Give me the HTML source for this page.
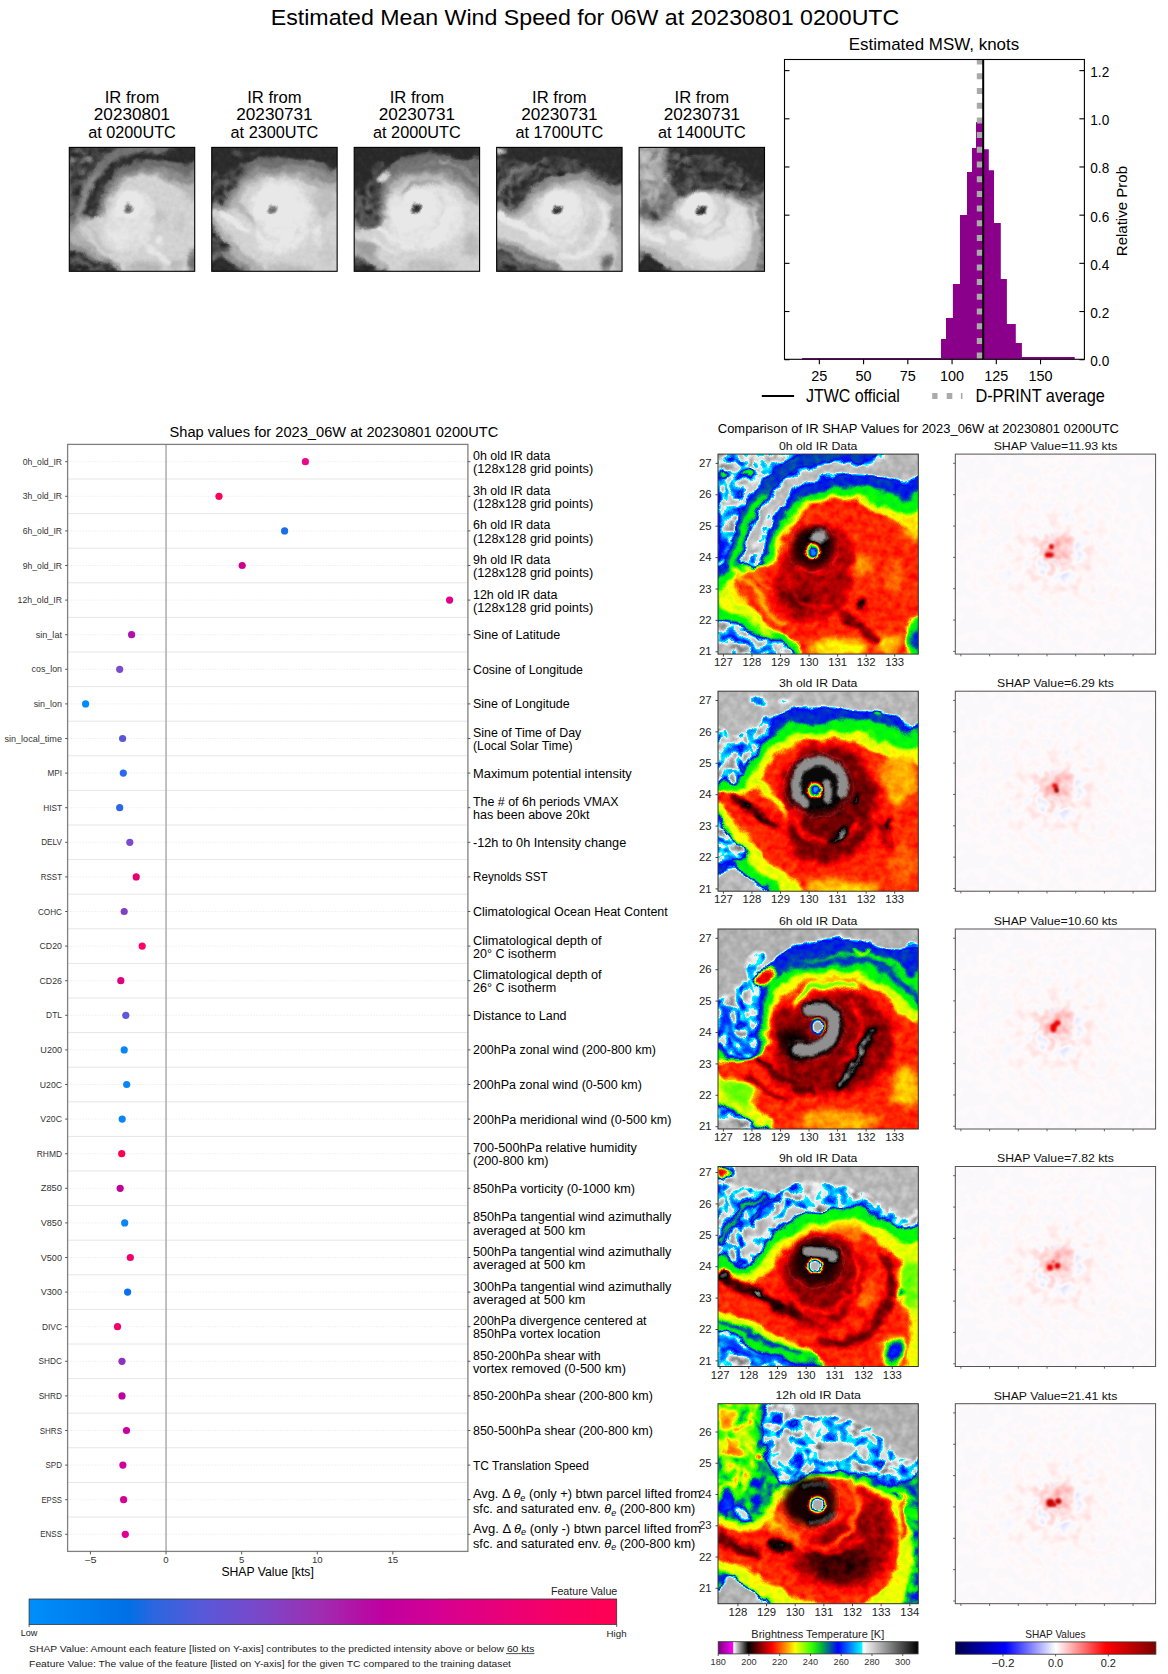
<!DOCTYPE html><html><head><meta charset="utf-8"><style>html,body{margin:0;padding:0;background:#fff;overflow:hidden}svg{display:block}text{font-family:"Liberation Sans",sans-serif}</style></head><body><svg width="1168" height="1674" viewBox="0 0 1168 1674"><defs><filter id="b1" x="-50%" y="-50%" width="200%" height="200%"><feGaussianBlur stdDeviation="0.8"/></filter><filter id="b2" x="-50%" y="-50%" width="200%" height="200%"><feGaussianBlur stdDeviation="1.6"/></filter><filter id="nzA" x="-20%" y="-20%" width="140%" height="140%" color-interpolation-filters="sRGB"><feTurbulence type="fractalNoise" baseFrequency="0.22" numOctaves="2" seed="11"/><feColorMatrix type="matrix" values="0.538 0 0 0 0.454 0.538 0 0 0 0.454 0.538 0 0 0 0.454 0 0 0 0 1"/><feComposite in2="SourceAlpha" operator="in"/></filter><filter id="nzB" x="-20%" y="-20%" width="140%" height="140%" color-interpolation-filters="sRGB"><feTurbulence type="fractalNoise" baseFrequency="0.22" numOctaves="2" seed="5"/><feColorMatrix type="matrix" values="0.308 0 0 0 0.385 0.308 0 0 0 0.385 0.308 0 0 0 0.385 0 0 0 0 1"/><feComposite in2="SourceAlpha" operator="in"/></filter><filter id="nzC" x="-20%" y="-20%" width="140%" height="140%" color-interpolation-filters="sRGB"><feTurbulence type="fractalNoise" baseFrequency="0.22" numOctaves="2" seed="9"/><feColorMatrix type="matrix" values="0.308 0 0 0 0.169 0.308 0 0 0 0.169 0.308 0 0 0 0.169 0 0 0 0 1"/><feComposite in2="SourceAlpha" operator="in"/></filter><filter id="nzD" x="-20%" y="-20%" width="140%" height="140%" color-interpolation-filters="sRGB"><feTurbulence type="fractalNoise" baseFrequency="0.22" numOctaves="2" seed="13"/><feColorMatrix type="matrix" values="0.538 0 0 0 0.162 0.538 0 0 0 0.162 0.538 0 0 0 0.162 0 0 0 0 1"/><feComposite in2="SourceAlpha" operator="in"/></filter><filter id="irmap" x="-10" y="-10" width="120" height="120" filterUnits="userSpaceOnUse" color-interpolation-filters="sRGB"><feGaussianBlur in="SourceGraphic" stdDeviation="0.9" result="s"/><feTurbulence type="fractalNoise" baseFrequency="0.09" numOctaves="3" seed="3" result="n"/><feDisplacementMap in="s" in2="n" scale="7" xChannelSelector="R" yChannelSelector="G" result="d"/><feTurbulence type="fractalNoise" baseFrequency="0.25" numOctaves="2" seed="7" result="n2"/><feColorMatrix in="n2" type="matrix" values="1 0 0 0 0  1 0 0 0 0  1 0 0 0 0  0 0 0 0 1" result="ng"/><feComposite in="d" in2="ng" operator="arithmetic" k1="0" k2="1" k3="0.06" k4="-0.03" result="dd"/><feComponentTransfer in="dd"><feFuncR type="table" tableValues="0.416 0.475 0.534 0.593 0.652 0.711 0.77 0.829 0.888 0.947 1 0.951 0.902 0.782 0.661 0.541 0.421 0.301 0.18 0.06 0 0.064 0.129 0.193 0.258 0.322 0.387 0.451 0.529 0.608 0.686 0.765 0.843 0.922 1 1 1 1 1 1 1 1 1 1 1 1 1 1 1 1 0.929 0.858 0.787 0.715 0.644 0.573 0.502 0.43 0.359 0.287 0.215 0.143 0.072 0 0 0 0 0 0 0 0 0 0 0 0 0 0 0 0 0 0 0 0 0 0 0 0 0 0 0 0 0 0 0 0 0.98 0.952 0.924 0.896 0.868 0.84 0.812 0.784 0.756 0.728 0.7 0.672 0.644 0.616 0.588 0.56 0.532 0.504 0.476 0.448 0.42 0.392 0.364 0.336 0.308 0.28 0.252 0.224 0.196 0.168 0.14 0.112 0.084 0.056 0.028 0"/><feFuncG type="table" tableValues="0 0 0 0 0 0 0 0 0 0 1 0.951 0.902 0.782 0.661 0.541 0.421 0.301 0.18 0.06 0 0 0 0 0 0 0 0 0 0 0 0 0 0 0 0.067 0.134 0.201 0.268 0.335 0.402 0.468 0.535 0.602 0.668 0.734 0.801 0.867 0.934 1 1 1 1 1 1 1 1 1 1 1 1 1 1 1 0.974 0.948 0.922 0.848 0.775 0.701 0.627 0.549 0.471 0.392 0.314 0.257 0.2 0.143 0.086 0.029 0.03 0.09 0.151 0.211 0.271 0.332 0.392 0.468 0.544 0.62 0.696 0.772 0.848 0.924 1 0.98 0.952 0.924 0.896 0.868 0.84 0.812 0.784 0.756 0.728 0.7 0.672 0.644 0.616 0.588 0.56 0.532 0.504 0.476 0.448 0.42 0.392 0.364 0.336 0.308 0.28 0.252 0.224 0.196 0.168 0.14 0.112 0.084 0.056 0.028 0"/><feFuncB type="table" tableValues="0.416 0.475 0.534 0.593 0.652 0.711 0.77 0.829 0.888 0.947 1 0.951 0.902 0.782 0.661 0.541 0.421 0.301 0.18 0.06 0 0 0 0 0 0 0 0 0 0 0 0 0 0 0 0 0 0 0 0 0 0 0 0 0 0 0 0 0 0 0 0 0 0 0 0 0 0 0 0 0 0 0 0 0.039 0.078 0.118 0.186 0.255 0.324 0.392 0.461 0.529 0.598 0.667 0.727 0.788 0.848 0.909 0.97 1 1 1 1 1 1 1 1 1 1 1 1 1 1 1 0.98 0.952 0.924 0.896 0.868 0.84 0.812 0.784 0.756 0.728 0.7 0.672 0.644 0.616 0.588 0.56 0.532 0.504 0.476 0.448 0.42 0.392 0.364 0.336 0.308 0.28 0.252 0.224 0.196 0.168 0.14 0.112 0.084 0.056 0.028 0"/><feFuncA type="identity"/></feComponentTransfer></filter><filter id="irmapS" x="-10" y="-10" width="120" height="120" filterUnits="userSpaceOnUse" color-interpolation-filters="sRGB"><feGaussianBlur in="SourceGraphic" stdDeviation="0.5" result="s"/><feTurbulence type="fractalNoise" baseFrequency="0.2" numOctaves="2" seed="4" result="n"/><feDisplacementMap in="s" in2="n" scale="2.2" xChannelSelector="R" yChannelSelector="G" result="d"/><feComponentTransfer in="d"><feFuncR type="table" tableValues="0.416 0.475 0.534 0.593 0.652 0.711 0.77 0.829 0.888 0.947 1 0.951 0.902 0.782 0.661 0.541 0.421 0.301 0.18 0.06 0 0.064 0.129 0.193 0.258 0.322 0.387 0.451 0.529 0.608 0.686 0.765 0.843 0.922 1 1 1 1 1 1 1 1 1 1 1 1 1 1 1 1 0.929 0.858 0.787 0.715 0.644 0.573 0.502 0.43 0.359 0.287 0.215 0.143 0.072 0 0 0 0 0 0 0 0 0 0 0 0 0 0 0 0 0 0 0 0 0 0 0 0 0 0 0 0 0 0 0 0 0.98 0.952 0.924 0.896 0.868 0.84 0.812 0.784 0.756 0.728 0.7 0.672 0.644 0.616 0.588 0.56 0.532 0.504 0.476 0.448 0.42 0.392 0.364 0.336 0.308 0.28 0.252 0.224 0.196 0.168 0.14 0.112 0.084 0.056 0.028 0"/><feFuncG type="table" tableValues="0 0 0 0 0 0 0 0 0 0 1 0.951 0.902 0.782 0.661 0.541 0.421 0.301 0.18 0.06 0 0 0 0 0 0 0 0 0 0 0 0 0 0 0 0.067 0.134 0.201 0.268 0.335 0.402 0.468 0.535 0.602 0.668 0.734 0.801 0.867 0.934 1 1 1 1 1 1 1 1 1 1 1 1 1 1 1 0.974 0.948 0.922 0.848 0.775 0.701 0.627 0.549 0.471 0.392 0.314 0.257 0.2 0.143 0.086 0.029 0.03 0.09 0.151 0.211 0.271 0.332 0.392 0.468 0.544 0.62 0.696 0.772 0.848 0.924 1 0.98 0.952 0.924 0.896 0.868 0.84 0.812 0.784 0.756 0.728 0.7 0.672 0.644 0.616 0.588 0.56 0.532 0.504 0.476 0.448 0.42 0.392 0.364 0.336 0.308 0.28 0.252 0.224 0.196 0.168 0.14 0.112 0.084 0.056 0.028 0"/><feFuncB type="table" tableValues="0.416 0.475 0.534 0.593 0.652 0.711 0.77 0.829 0.888 0.947 1 0.951 0.902 0.782 0.661 0.541 0.421 0.301 0.18 0.06 0 0 0 0 0 0 0 0 0 0 0 0 0 0 0 0 0 0 0 0 0 0 0 0 0 0 0 0 0 0 0 0 0 0 0 0 0 0 0 0 0 0 0 0 0.039 0.078 0.118 0.186 0.255 0.324 0.392 0.461 0.529 0.598 0.667 0.727 0.788 0.848 0.909 0.97 1 1 1 1 1 1 1 1 1 1 1 1 1 1 1 0.98 0.952 0.924 0.896 0.868 0.84 0.812 0.784 0.756 0.728 0.7 0.672 0.644 0.616 0.588 0.56 0.532 0.504 0.476 0.448 0.42 0.392 0.364 0.336 0.308 0.28 0.252 0.224 0.196 0.168 0.14 0.112 0.084 0.056 0.028 0"/><feFuncA type="identity"/></feComponentTransfer></filter><filter id="thmap" x="-10" y="-10" width="120" height="120" filterUnits="userSpaceOnUse" color-interpolation-filters="sRGB"><feGaussianBlur in="SourceGraphic" stdDeviation="1.4" result="s"/><feTurbulence type="fractalNoise" baseFrequency="0.09" numOctaves="3" seed="3" result="n"/><feDisplacementMap in="s" in2="n" scale="7" xChannelSelector="R" yChannelSelector="G" result="d"/><feTurbulence type="fractalNoise" baseFrequency="0.25" numOctaves="2" seed="7" result="n2"/><feColorMatrix in="n2" type="matrix" values="1 0 0 0 0  1 0 0 0 0  1 0 0 0 0  0 0 0 0 1" result="ng"/><feComposite in="d" in2="ng" operator="arithmetic" k1="0" k2="1" k3="0.06" k4="-0.03" result="dd"/><feComponentTransfer in="dd"><feFuncR type="table" tableValues="0.910 0.910 0.910 0.910 0.910 0.910 0.910 0.910 0.910 0.910 0.910 0.910 0.910 0.910 0.895 0.875 0.856 0.836 0.816 0.796 0.776 0.756 0.737 0.717 0.697 0.677 0.657 0.637 0.618 0.598 0.578 0.558 0.538 0.518 0.498 0.479 0.459 0.439 0.419 0.399 0.379 0.360 0.340 0.320 0.300 0.280 0.260 0.241 0.221 0.201 0.181 0.161 0.150 0.150 0.150 0.150 0.150 0.150 0.150 0.150 0.150 0.150 0.150 0.150"/><feFuncG type="table" tableValues="0.910 0.910 0.910 0.910 0.910 0.910 0.910 0.910 0.910 0.910 0.910 0.910 0.910 0.910 0.895 0.875 0.856 0.836 0.816 0.796 0.776 0.756 0.737 0.717 0.697 0.677 0.657 0.637 0.618 0.598 0.578 0.558 0.538 0.518 0.498 0.479 0.459 0.439 0.419 0.399 0.379 0.360 0.340 0.320 0.300 0.280 0.260 0.241 0.221 0.201 0.181 0.161 0.150 0.150 0.150 0.150 0.150 0.150 0.150 0.150 0.150 0.150 0.150 0.150"/><feFuncB type="table" tableValues="0.910 0.910 0.910 0.910 0.910 0.910 0.910 0.910 0.910 0.910 0.910 0.910 0.910 0.910 0.895 0.875 0.856 0.836 0.816 0.796 0.776 0.756 0.737 0.717 0.697 0.677 0.657 0.637 0.618 0.598 0.578 0.558 0.538 0.518 0.498 0.479 0.459 0.439 0.419 0.399 0.379 0.360 0.340 0.320 0.300 0.280 0.260 0.241 0.221 0.201 0.181 0.161 0.150 0.150 0.150 0.150 0.150 0.150 0.150 0.150 0.150 0.150 0.150 0.150"/><feFuncA type="identity"/></feComponentTransfer></filter><g id="fldo0"><rect x="-20" y="-20" width="140" height="140" fill="#cccccc"/><path d="M-4.0,-4.0C9.7,-14.7 64.7,-5.3 78.0,-4.0C91.3,-2.7 80.7,2.3 76.0,4.0C71.3,5.7 56.0,4.3 50.0,6.0C44.0,7.7 43.3,10.7 40.0,14.0C36.7,17.3 33.0,21.0 30.0,26.0C27.0,31.0 24.0,39.0 22.0,44.0C20.0,49.0 22.3,53.3 18.0,56.0C13.7,58.7 -0.3,70.0 -4.0,60.0C-7.7,50.0 -17.7,6.7 -4.0,-4.0Z" fill="#000" filter="url(#nzA)"/><path d="M14.0,52.0C14.8,49.7 17.0,42.2 19.0,38.0C21.0,33.8 23.3,30.3 26.0,27.0C28.7,23.7 31.7,20.7 35.0,18.0C38.3,15.3 42.5,12.7 46.0,11.0C49.5,9.3 54.3,8.5 56.0,8.0" fill="none" stroke="#cccccc" stroke-width="4.5" stroke-linecap="round" filter="url(#b1)"/><ellipse cx="20" cy="20" rx="7" ry="5" fill="#cccccc" transform="rotate(-40 20 20)" filter="url(#b1)"/><ellipse cx="60" cy="6" rx="8" ry="2.5" fill="#cccccc" filter="url(#b1)"/><path d="M2.0,82.0C2.5,78.7 3.8,67.7 5.0,62.0C6.2,56.3 7.7,52.3 9.0,48.0C10.3,43.7 11.3,40.0 13.0,36.0C14.7,32.0 16.3,28.0 19.0,24.0C21.7,20.0 25.2,15.5 29.0,12.0C32.8,8.5 37.2,5.0 42.0,3.0C46.8,1.0 52.3,0.8 58.0,0.0C63.7,-0.8 73.0,-1.7 76.0,-2.0" fill="none" stroke="#939393" stroke-width="8" stroke-linecap="round"/><path d="M4.0,70.0C4.5,67.7 5.8,60.3 7.0,56.0C8.2,51.7 9.5,48.2 11.0,44.0C12.5,39.8 14.2,34.7 16.0,31.0C17.8,27.3 21.0,23.5 22.0,22.0" fill="none" stroke="#7c7c7c" stroke-width="3.5" stroke-linecap="round" filter="url(#b1)"/><path d="M0.0,18.0C0.2,20.8 1.0,29.7 1.0,35.0C1.0,40.3 0.2,47.5 0.0,50.0" fill="none" stroke="#979797" stroke-width="3" stroke-linecap="round" filter="url(#b1)"/><ellipse cx="4" cy="10" rx="3" ry="1.6" fill="#767676" filter="url(#b1)"/><ellipse cx="14" cy="10" rx="4" ry="1.6" fill="#6e6e6e" filter="url(#b1)"/><path d="M20.0,56.0C22.7,53.7 22.3,46.3 24.0,42.0C25.7,37.7 27.8,33.5 30.0,30.0C32.2,26.5 34.7,23.7 37.0,21.0C39.3,18.3 41.5,15.7 44.0,14.0C46.5,12.3 49.0,11.7 52.0,11.0C55.0,10.3 58.7,10.2 62.0,10.0C65.3,9.8 69.0,9.8 72.0,10.0C75.0,10.2 76.7,10.2 80.0,11.0C83.3,11.8 88.0,13.8 92.0,15.0C96.0,16.2 102.0,3.2 104.0,18.0C106.0,32.8 118.7,89.7 104.0,104.0C89.3,118.3 32.0,105.7 16.0,104.0C0.0,102.3 11.3,96.7 8.0,94.0C4.7,91.3 -2.0,93.7 -4.0,88.0C-6.0,82.3 -6.0,65.3 -4.0,60.0C-2.0,54.7 4.0,56.7 8.0,56.0C12.0,55.3 17.3,58.3 20.0,56.0Z" fill="#979797"/><path d="M-4.0,82.0C-1.7,81.0 5.3,84.3 10.0,86.0C14.7,87.7 19.0,90.3 24.0,92.0C29.0,93.7 36.3,94.0 40.0,96.0C43.7,98.0 50.3,102.7 46.0,104.0C41.7,105.3 20.7,105.3 14.0,104.0C7.3,102.7 9.0,98.0 6.0,96.0C3.0,94.0 -2.3,94.3 -4.0,92.0C-5.7,89.7 -6.3,83.0 -4.0,82.0Z" fill="#000" filter="url(#nzA)"/><path d="M22.0,58.0C23.8,55.8 24.3,49.2 26.0,45.0C27.7,40.8 29.7,36.7 32.0,33.0C34.3,29.3 37.0,25.5 40.0,23.0C43.0,20.5 46.7,19.2 50.0,18.0C53.3,16.8 56.7,16.2 60.0,16.0C63.3,15.8 66.7,16.5 70.0,17.0C73.3,17.5 76.3,18.2 80.0,19.0C83.7,19.8 88.0,20.8 92.0,22.0C96.0,23.2 102.0,12.3 104.0,26.0C106.0,39.7 113.3,91.0 104.0,104.0C94.7,117.0 59.3,105.3 48.0,104.0C36.7,102.7 40.7,98.3 36.0,96.0C31.3,93.7 24.7,91.7 20.0,90.0C15.3,88.3 12.0,87.3 8.0,86.0C4.0,84.7 -2.0,85.3 -4.0,82.0C-6.0,78.7 -5.7,69.7 -4.0,66.0C-2.3,62.3 2.8,61.3 6.0,60.0C9.2,58.7 12.3,58.3 15.0,58.0C17.7,57.7 20.2,60.2 22.0,58.0Z" fill="#7e7e7e"/><path d="M27.0,53.0C28.7,50.5 28.5,45.7 30.0,42.0C31.5,38.3 33.7,34.0 36.0,31.0C38.3,28.0 41.3,25.7 44.0,24.0C46.7,22.3 49.0,21.7 52.0,21.0C55.0,20.3 58.7,19.8 62.0,20.0C65.3,20.2 68.3,21.0 72.0,22.0C75.7,23.0 80.2,24.7 84.0,26.0C87.8,27.3 91.7,29.0 95.0,30.0C98.3,31.0 102.5,19.7 104.0,32.0C105.5,44.3 112.7,92.0 104.0,104.0C95.3,116.0 62.7,105.7 52.0,104.0C41.3,102.3 44.3,96.7 40.0,94.0C35.7,91.3 30.7,90.0 26.0,88.0C21.3,86.0 16.0,84.0 12.0,82.0C8.0,80.0 3.3,78.7 2.0,76.0C0.7,73.3 2.3,68.7 4.0,66.0C5.7,63.3 9.3,61.5 12.0,60.0C14.7,58.5 17.5,58.2 20.0,57.0C22.5,55.8 25.3,55.5 27.0,53.0Z" fill="#606060"/><path d="M30.0,52.0C31.3,49.7 31.5,45.3 33.0,42.0C34.5,38.7 36.8,34.7 39.0,32.0C41.2,29.3 43.5,27.5 46.0,26.0C48.5,24.5 51.0,23.5 54.0,23.0C57.0,22.5 60.7,22.5 64.0,23.0C67.3,23.5 70.3,24.5 74.0,26.0C77.7,27.5 82.5,30.0 86.0,32.0C89.5,34.0 92.0,36.0 95.0,38.0C98.0,40.0 102.5,33.0 104.0,44.0C105.5,55.0 113.0,94.0 104.0,104.0C95.0,114.0 61.0,105.7 50.0,104.0C39.0,102.3 42.0,97.0 38.0,94.0C34.0,91.0 29.7,89.0 26.0,86.0C22.3,83.0 18.8,79.7 16.0,76.0C13.2,72.3 8.7,67.2 9.0,64.0C9.3,60.8 15.3,58.3 18.0,57.0C20.7,55.7 23.0,56.8 25.0,56.0C27.0,55.2 28.7,54.3 30.0,52.0Z" fill="#474747"/><ellipse cx="60" cy="97" rx="14" ry="4" fill="#606060" transform="rotate(-5 60 97)" filter="url(#b2)"/><ellipse cx="85" cy="95" rx="7" ry="5" fill="#5a5a5a" filter="url(#b2)"/><ellipse cx="100" cy="92" rx="5" ry="12" fill="#818181" filter="url(#b1)"/><ellipse cx="101" cy="93" rx="2.5" ry="6" fill="#999999" filter="url(#b1)"/><path d="M8.0,58.0C9.3,59.3 13.3,63.0 16.0,66.0C18.7,69.0 21.3,73.0 24.0,76.0C26.7,79.0 30.7,82.7 32.0,84.0" fill="none" stroke="#585858" stroke-width="3" stroke-linecap="round" filter="url(#b1)"/><path d="M3.0,68.0C4.2,69.3 7.5,73.3 10.0,76.0C12.5,78.7 15.3,81.7 18.0,84.0C20.7,86.3 24.7,89.0 26.0,90.0" fill="none" stroke="#646464" stroke-width="3" stroke-linecap="round" filter="url(#b1)"/><path d="M12.0,56.0C13.3,57.0 17.7,60.0 20.0,62.0C22.3,64.0 25.0,67.0 26.0,68.0" fill="none" stroke="#525252" stroke-width="2.5" stroke-linecap="round" filter="url(#b1)"/><ellipse cx="72" cy="55" rx="5" ry="5" fill="#545454" filter="url(#b2)"/><ellipse cx="98" cy="36" rx="5" ry="7" fill="#5e5e5e" filter="url(#b2)"/><ellipse cx="88" cy="62" rx="6" ry="8" fill="#4e4e4e" filter="url(#b2)"/><path d="M33.0,52.0C34.2,49.7 35.5,46.2 37.0,44.0C38.5,41.8 39.8,40.3 42.0,39.0C44.2,37.7 47.3,36.3 50.0,36.0C52.7,35.7 55.5,35.8 58.0,37.0C60.5,38.2 63.5,40.8 65.0,43.0C66.5,45.2 66.7,47.2 67.0,50.0C67.3,52.8 67.3,56.7 67.0,60.0C66.7,63.3 66.0,67.2 65.0,70.0C64.0,72.8 62.7,75.2 61.0,77.0C59.3,78.8 57.3,79.8 55.0,81.0C52.7,82.2 49.8,83.8 47.0,84.0C44.2,84.2 40.5,83.3 38.0,82.0C35.5,80.7 33.5,78.5 32.0,76.0C30.5,73.5 29.3,70.0 29.0,67.0C28.7,64.0 29.3,60.5 30.0,58.0C30.7,55.5 31.8,54.3 33.0,52.0Z" fill="#3b3b3b" filter="url(#b2)"/><ellipse cx="40" cy="72" rx="8" ry="5" fill="#313131" transform="rotate(10 40 72)" filter="url(#b2)"/><path d="M34.0,60.0C34.7,61.7 36.0,67.3 38.0,70.0C40.0,72.7 43.0,75.0 46.0,76.0C49.0,77.0 54.3,76.0 56.0,76.0" fill="none" stroke="#454545" stroke-width="1.5" stroke-linecap="round" filter="url(#b1)"/><path d="M40.0,58.0C41.3,58.3 45.3,60.2 48.0,60.0C50.7,59.8 54.0,58.7 56.0,57.0C58.0,55.3 59.3,51.2 60.0,50.0" fill="none" stroke="#434343" stroke-width="2" stroke-linecap="round" filter="url(#b1)"/><path d="M63.0,80.0C64.2,81.0 67.5,83.8 70.0,86.0C72.5,88.2 76.7,91.8 78.0,93.0" fill="none" stroke="#353535" stroke-width="4" stroke-linecap="round" filter="url(#b1)"/><ellipse cx="71.5" cy="75.5" rx="1.6" ry="3.6" fill="#252525" transform="rotate(20 71.5 75.5)" filter="url(#b1)"/></g><g id="fldc0"><ellipse cx="47.4" cy="46.6" rx="10.5" ry="10" fill="#2b2b2b" filter="url(#b2)"/><ellipse cx="50.4" cy="41.6" rx="4.4" ry="3.6" fill="#1d1d1d" filter="url(#b1)"/><ellipse cx="47.2" cy="48.2" rx="3.8" ry="4.0" fill="#494949"/><ellipse cx="47.3" cy="48.5" rx="3.0" ry="3.2" fill="#818181"/><ellipse cx="47.7" cy="49.0" rx="2.0" ry="2.0" fill="#adadad"/></g><g id="fldo1"><rect x="-20" y="-20" width="140" height="140" fill="#cccccc"/><path d="M-4.0,22.0C-1.7,11.7 6.3,24.3 10.0,24.0C13.7,23.7 15.3,21.7 18.0,20.0C20.7,18.3 23.0,15.7 26.0,14.0C29.0,12.3 32.0,11.0 36.0,10.0C40.0,9.0 45.2,8.2 50.0,8.0C54.8,7.8 60.3,8.7 65.0,9.0C69.7,9.3 74.2,9.3 78.0,10.0C81.8,10.7 85.0,11.7 88.0,13.0C91.0,14.3 93.3,16.5 96.0,18.0C98.7,19.5 102.7,7.7 104.0,22.0C105.3,36.3 116.0,90.3 104.0,104.0C92.0,117.7 45.3,105.0 32.0,104.0C18.7,103.0 27.7,100.3 24.0,98.0C20.3,95.7 14.7,92.0 10.0,90.0C5.3,88.0 -1.7,97.3 -4.0,86.0C-6.3,74.7 -6.3,32.3 -4.0,22.0Z" fill="#979797"/><path d="M-4.0,20.0C-1.7,15.3 6.3,22.3 10.0,22.0C13.7,21.7 15.3,19.7 18.0,18.0C20.7,16.3 25.0,11.0 26.0,12.0C27.0,13.0 25.7,20.3 24.0,24.0C22.3,27.7 18.3,30.3 16.0,34.0C13.7,37.7 13.3,43.3 10.0,46.0C6.7,48.7 -1.7,54.3 -4.0,50.0C-6.3,45.7 -6.3,24.7 -4.0,20.0Z" fill="#000" filter="url(#nzA)"/><ellipse cx="20" cy="4" rx="5" ry="1.5" fill="#a1a1a1" filter="url(#b1)"/><ellipse cx="33" cy="5" rx="3" ry="1.2" fill="#adadad" filter="url(#b1)"/><ellipse cx="80" cy="10" rx="2" ry="1.5" fill="#6c6c6c" filter="url(#b1)"/><path d="M-4.0,47.0C-2.0,44.0 4.7,47.8 8.0,46.0C11.3,44.2 13.3,39.3 16.0,36.0C18.7,32.7 21.0,29.0 24.0,26.0C27.0,23.0 30.0,19.8 34.0,18.0C38.0,16.2 43.3,15.7 48.0,15.0C52.7,14.3 57.3,13.8 62.0,14.0C66.7,14.2 71.3,15.0 76.0,16.0C80.7,17.0 85.3,18.0 90.0,20.0C94.7,22.0 101.7,14.0 104.0,28.0C106.3,42.0 115.7,91.3 104.0,104.0C92.3,116.7 48.0,105.3 34.0,104.0C20.0,102.7 24.3,99.0 20.0,96.0C15.7,93.0 9.0,89.0 8.0,86.0C7.0,83.0 14.3,80.7 14.0,78.0C13.7,75.3 9.0,72.3 6.0,70.0C3.0,67.7 -2.3,67.8 -4.0,64.0C-5.7,60.2 -6.0,50.0 -4.0,47.0Z" fill="#7e7e7e"/><path d="M-4.0,64.0C-2.3,61.0 3.0,64.3 6.0,66.0C9.0,67.7 12.3,71.3 14.0,74.0C15.7,76.7 17.0,80.0 16.0,82.0C15.0,84.0 11.3,85.7 8.0,86.0C4.7,86.3 -2.0,87.7 -4.0,84.0C-6.0,80.3 -5.7,67.0 -4.0,64.0Z" fill="#000" filter="url(#nzA)"/><path d="M-4.0,52.0C-2.7,50.0 5.0,51.0 8.0,50.0C11.0,49.0 12.0,48.3 14.0,46.0C16.0,43.7 17.7,39.0 20.0,36.0C22.3,33.0 25.0,30.3 28.0,28.0C31.0,25.7 34.3,23.3 38.0,22.0C41.7,20.7 45.7,20.3 50.0,20.0C54.3,19.7 59.3,19.5 64.0,20.0C68.7,20.5 73.3,21.7 78.0,23.0C82.7,24.3 87.7,26.2 92.0,28.0C96.3,29.8 102.0,21.3 104.0,34.0C106.0,46.7 114.7,92.3 104.0,104.0C93.3,115.7 52.7,105.3 40.0,104.0C27.3,102.7 32.0,99.0 28.0,96.0C24.0,93.0 19.3,90.0 16.0,86.0C12.7,82.0 10.7,76.0 8.0,72.0C5.3,68.0 2.0,65.3 0.0,62.0C-2.0,58.7 -5.3,54.0 -4.0,52.0Z" fill="#626262"/><path d="M-4.0,49.0C-3.0,47.7 6.0,52.5 10.0,52.0C14.0,51.5 17.3,48.7 20.0,46.0C22.7,43.3 23.7,38.8 26.0,36.0C28.3,33.2 31.0,30.8 34.0,29.0C37.0,27.2 40.3,25.8 44.0,25.0C47.7,24.2 51.7,23.7 56.0,24.0C60.3,24.3 65.3,25.5 70.0,27.0C74.7,28.5 78.3,30.2 84.0,33.0C89.7,35.8 100.7,32.2 104.0,44.0C107.3,55.8 112.7,94.0 104.0,104.0C95.3,114.0 63.0,105.7 52.0,104.0C41.0,102.3 42.7,97.3 38.0,94.0C33.3,90.7 28.0,87.7 24.0,84.0C20.0,80.3 17.3,76.0 14.0,72.0C10.7,68.0 7.0,63.8 4.0,60.0C1.0,56.2 -5.0,50.3 -4.0,49.0Z" fill="#474747"/><path d="M18.0,44.0C19.3,45.3 23.3,49.0 26.0,52.0C28.7,55.0 31.7,59.3 34.0,62.0C36.3,64.7 39.0,67.0 40.0,68.0" fill="none" stroke="#686868" stroke-width="3" stroke-linecap="round" filter="url(#b1)"/><ellipse cx="90" cy="45" rx="9" ry="13" fill="#565656" filter="url(#b2)"/><ellipse cx="62" cy="99" rx="18" ry="4" fill="#5c5c5c" filter="url(#b2)"/><ellipse cx="93" cy="88" rx="7" ry="12" fill="#4e4e4e" filter="url(#b2)"/><path d="M8.0,53.0C9.2,53.8 12.7,56.3 15.0,58.0C17.3,59.7 19.7,61.3 22.0,63.0C24.3,64.7 27.8,67.2 29.0,68.0" fill="none" stroke="#313131" stroke-width="4.5" stroke-linecap="round" filter="url(#b1)"/><ellipse cx="13" cy="57" rx="2.2" ry="1.4" fill="#1f1f1f" transform="rotate(35 13 57)" filter="url(#b1)"/><ellipse cx="20" cy="62.5" rx="1.5" ry="1.2" fill="#1f1f1f" transform="rotate(35 20 62.5)" filter="url(#b1)"/><path d="M34.0,40.0C35.3,36.8 37.3,33.2 40.0,31.0C42.7,28.8 46.3,27.3 50.0,27.0C53.7,26.7 58.3,27.7 62.0,29.0C65.7,30.3 69.3,31.8 72.0,35.0C74.7,38.2 77.0,43.5 78.0,48.0C79.0,52.5 78.7,57.7 78.0,62.0C77.3,66.3 76.0,70.7 74.0,74.0C72.0,77.3 69.3,80.0 66.0,82.0C62.7,84.0 58.0,85.7 54.0,86.0C50.0,86.3 45.0,85.7 42.0,84.0C39.0,82.3 37.3,79.7 36.0,76.0C34.7,72.3 34.7,66.3 34.0,62.0C33.3,57.7 32.0,53.7 32.0,50.0C32.0,46.3 32.7,43.2 34.0,40.0Z" fill="#353535" filter="url(#b2)"/><path d="M36.0,60.0C37.0,61.7 39.3,67.5 42.0,70.0C44.7,72.5 48.7,74.3 52.0,75.0C55.3,75.7 59.0,75.5 62.0,74.0C65.0,72.5 68.7,67.3 70.0,66.0" fill="none" stroke="#454545" stroke-width="3" stroke-linecap="round" filter="url(#b1)"/><ellipse cx="61" cy="72" rx="6" ry="2.2" fill="#1f1f1f" transform="rotate(-35 61 72)" filter="url(#b1)"/><ellipse cx="55" cy="75" rx="1.5" ry="1.2" fill="#1f1f1f" filter="url(#b1)"/><ellipse cx="69" cy="53" rx="1.6" ry="2.6" fill="#1f1f1f" filter="url(#b1)"/><ellipse cx="84.5" cy="66" rx="1.4" ry="3.5" fill="#212121" transform="rotate(10 84.5 66)" filter="url(#b1)"/><path d="M70.0,62.0C71.7,63.0 77.3,65.3 80.0,68.0C82.7,70.7 85.0,76.3 86.0,78.0" fill="none" stroke="#393939" stroke-width="3" stroke-linecap="round" filter="url(#b1)"/></g><g id="fldc1"><ellipse cx="50" cy="47" rx="15" ry="14" fill="#272727" filter="url(#b2)"/><path d="M62.0,51.0C62.1,50.0 63.0,47.1 62.5,45.0C62.0,42.9 60.9,40.2 59.0,38.5C57.1,36.8 53.7,35.2 51.0,35.0C48.3,34.8 45.0,35.8 43.0,37.5C41.0,39.2 39.5,42.6 39.0,45.0C38.5,47.4 39.3,50.2 40.0,52.0C40.7,53.8 42.5,55.3 43.0,56.0" fill="none" stroke="#1d1d1d" stroke-width="5.0" stroke-linecap="round"/><ellipse cx="54.5" cy="50" rx="2.4" ry="6" fill="#1d1d1d"/><ellipse cx="48.4" cy="49.4" rx="4.0" ry="4.0" fill="#4b4b4b"/><ellipse cx="48.4" cy="49.4" rx="3.0" ry="3.0" fill="#898989"/><ellipse cx="48.8" cy="49.0" rx="1.6" ry="1.6" fill="#b1b1b1"/></g><g id="fldo2"><rect x="-20" y="-20" width="140" height="140" fill="#cecece"/><path d="M-4.0,36.0C-2.3,31.3 3.0,36.0 6.0,34.0C9.0,32.0 12.3,27.3 14.0,24.0C15.7,20.7 14.3,16.0 16.0,14.0C17.7,12.0 23.0,9.3 24.0,12.0C25.0,14.7 22.7,23.7 22.0,30.0C21.3,36.3 20.0,44.3 20.0,50.0C20.0,55.7 23.7,61.3 22.0,64.0C20.3,66.7 14.3,66.3 10.0,66.0C5.7,65.7 -1.7,67.0 -4.0,62.0C-6.3,57.0 -5.7,40.7 -4.0,36.0Z" fill="#000" filter="url(#nzA)"/><path d="M2.0,40.0C2.7,41.7 4.3,47.0 6.0,50.0C7.7,53.0 10.0,55.7 12.0,58.0C14.0,60.3 17.0,63.0 18.0,64.0" fill="none" stroke="#a1a1a1" stroke-width="3.0" stroke-linecap="round" filter="url(#b1)"/><path d="M8.0,30.0C8.7,31.7 10.5,36.7 12.0,40.0C13.5,43.3 16.2,48.3 17.0,50.0" fill="none" stroke="#a9a9a9" stroke-width="2.0" stroke-linecap="round" filter="url(#b1)"/><path d="M-4.0,58.0C-2.0,53.3 4.3,63.3 8.0,64.0C11.7,64.7 16.0,66.0 18.0,62.0C20.0,58.0 19.3,46.0 20.0,40.0C20.7,34.0 20.7,30.0 22.0,26.0C23.3,22.0 25.0,18.8 28.0,16.0C31.0,13.2 35.7,10.8 40.0,9.0C44.3,7.2 49.7,5.8 54.0,5.0C58.3,4.2 62.3,3.8 66.0,4.0C69.7,4.2 72.3,5.0 76.0,6.0C79.7,7.0 83.3,8.3 88.0,10.0C92.7,11.7 101.3,0.3 104.0,16.0C106.7,31.7 118.3,89.3 104.0,104.0C89.7,118.7 34.0,105.3 18.0,104.0C2.0,102.7 11.7,98.0 8.0,96.0C4.3,94.0 -2.0,98.3 -4.0,92.0C-6.0,85.7 -6.0,62.7 -4.0,58.0Z" fill="#979797"/><path d="M-4.0,62.0C-1.7,58.0 6.0,67.7 10.0,68.0C14.0,68.3 18.0,68.0 20.0,64.0C22.0,60.0 21.0,49.7 22.0,44.0C23.0,38.3 24.0,34.0 26.0,30.0C28.0,26.0 30.7,22.7 34.0,20.0C37.3,17.3 41.7,15.3 46.0,14.0C50.3,12.7 55.3,12.2 60.0,12.0C64.7,11.8 69.3,12.2 74.0,13.0C78.7,13.8 84.3,15.5 88.0,17.0C91.7,18.5 93.3,20.2 96.0,22.0C98.7,23.8 102.7,14.3 104.0,28.0C105.3,41.7 117.7,91.3 104.0,104.0C90.3,116.7 37.3,105.3 22.0,104.0C6.7,102.7 16.3,98.0 12.0,96.0C7.7,94.0 -1.3,97.7 -4.0,92.0C-6.7,86.3 -6.3,66.0 -4.0,62.0Z" fill="#7e7e7e"/><path d="M34.0,20.0C36.7,19.3 44.7,16.7 50.0,16.0C55.3,15.3 61.0,15.5 66.0,16.0C71.0,16.5 75.7,17.3 80.0,19.0C84.3,20.7 88.7,23.2 92.0,26.0C95.3,28.8 98.0,33.0 100.0,36.0C102.0,39.0 103.3,42.7 104.0,44.0" fill="none" stroke="#959595" stroke-width="3.5" stroke-linecap="round" filter="url(#b1)"/><path d="M60.0,30.0C62.3,30.2 69.7,30.0 74.0,31.0C78.3,32.0 82.3,34.2 86.0,36.0C89.7,37.8 94.3,41.0 96.0,42.0" fill="none" stroke="#979797" stroke-width="3" stroke-linecap="round" filter="url(#b1)"/><path d="M69.0,10.0C69.5,10.5 71.0,13.0 72.0,13.0C73.0,13.0 74.5,10.5 75.0,10.0" fill="none" stroke="#525252" stroke-width="1.2" stroke-linecap="round"/><path d="M-4.0,68.0C-1.7,65.7 5.7,72.3 10.0,72.0C14.3,71.7 19.7,70.0 22.0,66.0C24.3,62.0 23.0,53.3 24.0,48.0C25.0,42.7 26.0,37.8 28.0,34.0C30.0,30.2 32.7,27.2 36.0,25.0C39.3,22.8 43.7,21.7 48.0,21.0C52.3,20.3 57.3,20.5 62.0,21.0C66.7,21.5 71.7,22.5 76.0,24.0C80.3,25.5 84.7,27.3 88.0,30.0C91.3,32.7 93.3,37.0 96.0,40.0C98.7,43.0 102.7,37.3 104.0,48.0C105.3,58.7 117.0,94.7 104.0,104.0C91.0,113.3 41.0,105.7 26.0,104.0C11.0,102.3 19.0,97.0 14.0,94.0C9.0,91.0 -1.0,90.3 -4.0,86.0C-7.0,81.7 -6.3,70.3 -4.0,68.0Z" fill="#626262"/><path d="M0.0,66.0C1.3,64.7 8.0,67.0 12.0,66.0C16.0,65.0 21.7,63.3 24.0,60.0C26.3,56.7 24.7,50.3 26.0,46.0C27.3,41.7 29.3,37.2 32.0,34.0C34.7,30.8 38.0,28.5 42.0,27.0C46.0,25.5 51.3,25.0 56.0,25.0C60.7,25.0 65.3,25.5 70.0,27.0C74.7,28.5 80.0,30.8 84.0,34.0C88.0,37.2 90.7,43.0 94.0,46.0C97.3,49.0 102.3,42.3 104.0,52.0C105.7,61.7 115.7,95.3 104.0,104.0C92.3,112.7 47.3,105.7 34.0,104.0C20.7,102.3 27.3,97.3 24.0,94.0C20.7,90.7 17.3,87.3 14.0,84.0C10.7,80.7 6.3,77.0 4.0,74.0C1.7,71.0 -1.3,67.3 0.0,66.0Z" fill="#474747"/><path d="M-4.0,88.0C-2.0,86.0 4.0,90.3 8.0,92.0C12.0,93.7 17.0,96.0 20.0,98.0C23.0,100.0 30.0,103.0 26.0,104.0C22.0,105.0 1.0,106.7 -4.0,104.0C-9.0,101.3 -6.0,90.0 -4.0,88.0Z" fill="#000" filter="url(#nzA)"/><ellipse cx="2" cy="100" rx="8" ry="5" fill="#cccccc" filter="url(#b1)"/><ellipse cx="23.5" cy="24.5" rx="4" ry="4" fill="#3f3f3f" filter="url(#b1)"/><path d="M40.0,48.0C39.7,46.7 37.7,42.7 38.0,40.0C38.3,37.3 40.0,34.0 42.0,32.0C44.0,30.0 47.0,28.7 50.0,28.0C53.0,27.3 56.7,27.7 60.0,28.0C63.3,28.3 68.3,29.7 70.0,30.0" fill="none" stroke="#727272" stroke-width="3.5" stroke-linecap="round" filter="url(#b1)"/><ellipse cx="94" cy="80" rx="7" ry="10" fill="#5a5a5a" filter="url(#b2)"/><ellipse cx="60" cy="96" rx="20" ry="5" fill="#565656" filter="url(#b2)"/><ellipse cx="10" cy="82" rx="8" ry="6" fill="#727272" transform="rotate(30 10 82)" filter="url(#b2)"/><path d="M28.0,50.0C28.0,44.7 29.3,42.3 32.0,40.0C34.7,37.7 40.0,37.3 44.0,36.0C48.0,34.7 52.0,32.7 56.0,32.0C60.0,31.3 64.0,31.0 68.0,32.0C72.0,33.0 77.0,35.0 80.0,38.0C83.0,41.0 85.0,45.7 86.0,50.0C87.0,54.3 87.0,60.0 86.0,64.0C85.0,68.0 82.7,71.3 80.0,74.0C77.3,76.7 74.0,78.7 70.0,80.0C66.0,81.3 60.7,82.0 56.0,82.0C51.3,82.0 46.0,81.7 42.0,80.0C38.0,78.3 34.3,77.0 32.0,72.0C29.7,67.0 28.0,55.3 28.0,50.0Z" fill="#373737" filter="url(#b2)"/><path d="M20.0,66.0C21.3,67.0 25.0,70.0 28.0,72.0C31.0,74.0 34.7,76.3 38.0,78.0C41.3,79.7 46.3,81.3 48.0,82.0" fill="none" stroke="#333333" stroke-width="4" stroke-linecap="round" filter="url(#b1)"/><path d="M14.0,74.0C15.7,75.0 20.7,78.3 24.0,80.0C27.3,81.7 32.3,83.3 34.0,84.0" fill="none" stroke="#353535" stroke-width="2.5" stroke-linecap="round" filter="url(#b1)"/><path d="M62.0,66.0C63.3,64.3 68.3,59.7 70.0,56.0C71.7,52.3 72.7,47.3 72.0,44.0C71.3,40.7 67.0,37.3 66.0,36.0" fill="none" stroke="#434343" stroke-width="2.5" stroke-linecap="round" filter="url(#b1)"/><path d="M76.0,52.0C75.3,53.7 73.7,58.7 72.0,62.0C70.3,65.3 68.0,69.2 66.0,72.0C64.0,74.8 61.0,77.8 60.0,79.0" fill="none" stroke="#272727" stroke-width="5" stroke-linecap="round" filter="url(#b1)"/><path d="M75.0,54.0C74.3,55.5 72.7,60.0 71.0,63.0C69.3,66.0 66.7,69.7 65.0,72.0C63.3,74.3 61.7,76.2 61.0,77.0" fill="none" stroke="#1f1f1f" stroke-width="2.5" stroke-linecap="round" filter="url(#b1)"/><ellipse cx="38" cy="56" rx="9" ry="8" fill="#292929" filter="url(#b2)"/></g><g id="fldc2"><path d="M46.0,40.0C47.3,40.0 51.9,39.0 54.0,40.0C56.1,41.0 58.0,43.7 58.5,46.0C59.0,48.3 58.1,51.8 57.0,54.0C55.9,56.2 54.2,57.8 52.0,59.0C49.8,60.2 46.2,60.7 44.0,61.0C41.8,61.3 39.8,61.0 39.0,61.0" fill="none" stroke="#272727" stroke-width="8.5" stroke-linecap="round" filter="url(#b1)"/><path d="M46.0,40.5C47.3,40.6 52.0,40.1 54.0,41.0C56.0,41.9 57.6,43.9 58.0,46.0C58.4,48.1 57.6,51.4 56.5,53.5C55.4,55.6 53.6,57.3 51.5,58.5C49.4,59.7 45.9,60.2 44.0,60.5C42.1,60.8 40.7,60.5 40.0,60.5" fill="none" stroke="#1d1d1d" stroke-width="6" stroke-linecap="round"/><ellipse cx="49.8" cy="48.6" rx="3.6" ry="4.0" fill="#8d8d8d"/><ellipse cx="49.8" cy="48.6" rx="2.6" ry="3.0" fill="#d2d2d2"/></g><g id="fldo3"><rect x="-20" y="-20" width="140" height="140" fill="#cccccc"/><path d="M-4.0,-4.0C-2.3,-22.0 3.7,-6.3 6.0,-4.0C8.3,-1.7 7.7,7.3 10.0,10.0C12.3,12.7 16.0,11.7 20.0,12.0C24.0,12.3 29.7,12.7 34.0,12.0C38.3,11.3 41.7,8.3 46.0,8.0C50.3,7.7 56.0,9.3 60.0,10.0C64.0,10.7 66.7,10.3 70.0,12.0C73.3,13.7 76.3,18.0 80.0,20.0C83.7,22.0 88.0,22.7 92.0,24.0C96.0,25.3 102.0,14.7 104.0,28.0C106.0,41.3 122.0,91.3 104.0,104.0C86.0,116.7 14.0,122.0 -4.0,104.0C-22.0,86.0 -5.7,14.0 -4.0,-4.0Z" fill="#000" filter="url(#nzA)"/><ellipse cx="22" cy="30" rx="6" ry="4" fill="#cccccc" transform="rotate(-30 22 30)" filter="url(#b1)"/><ellipse cx="30" cy="40" rx="5" ry="3" fill="#c4c4c4" transform="rotate(-30 30 40)" filter="url(#b1)"/><ellipse cx="16" cy="40" rx="4" ry="3" fill="#c8c8c8" transform="rotate(-20 16 40)" filter="url(#b1)"/><ellipse cx="10" cy="24" rx="4" ry="4" fill="#c0c0c0" filter="url(#b1)"/><ellipse cx="38" cy="24" rx="6" ry="3" fill="#cacaca" transform="rotate(-25 38 24)" filter="url(#b1)"/><path d="M2.0,40.0C2.7,38.3 4.0,33.3 6.0,30.0C8.0,26.7 11.0,22.3 14.0,20.0C17.0,17.7 22.3,16.7 24.0,16.0" fill="none" stroke="#7c7c7c" stroke-width="2.5" stroke-linecap="round" filter="url(#b1)"/><path d="M18.0,28.0C18.7,26.7 20.0,21.7 22.0,20.0C24.0,18.3 28.7,18.3 30.0,18.0" fill="none" stroke="#808080" stroke-width="2" stroke-linecap="round" filter="url(#b1)"/><ellipse cx="2" cy="3" rx="3" ry="4" fill="#434343" filter="url(#b1)"/><ellipse cx="2" cy="80" rx="6" ry="7" fill="#c8c8c8" filter="url(#b1)"/><path d="M-4.0,46.0C-2.3,40.7 3.0,47.3 6.0,48.0C9.0,48.7 11.3,51.0 14.0,50.0C16.7,49.0 19.7,44.7 22.0,42.0C24.3,39.3 25.3,36.7 28.0,34.0C30.7,31.3 34.0,28.0 38.0,26.0C42.0,24.0 47.3,23.0 52.0,22.0C56.7,21.0 61.3,19.7 66.0,20.0C70.7,20.3 75.7,22.3 80.0,24.0C84.3,25.7 88.0,28.0 92.0,30.0C96.0,32.0 102.0,23.7 104.0,36.0C106.0,48.3 111.3,92.7 104.0,104.0C96.7,115.3 70.7,105.0 60.0,104.0C49.3,103.0 46.7,100.0 40.0,98.0C33.3,96.0 25.7,94.3 20.0,92.0C14.3,89.7 10.0,86.0 6.0,84.0C2.0,82.0 -2.3,86.3 -4.0,80.0C-5.7,73.7 -5.7,51.3 -4.0,46.0Z" fill="#7e7e7e"/><path d="M-2.0,86.0C0.7,87.0 8.7,90.2 14.0,92.0C19.3,93.8 24.0,95.5 30.0,97.0C36.0,98.5 46.7,100.3 50.0,101.0" fill="none" stroke="#a1a1a1" stroke-width="3" stroke-linecap="round" filter="url(#b1)"/><path d="M-2.0,74.0C0.3,75.3 7.3,79.7 12.0,82.0C16.7,84.3 21.3,86.3 26.0,88.0C30.7,89.7 37.7,91.3 40.0,92.0" fill="none" stroke="#999999" stroke-width="3" stroke-linecap="round" filter="url(#b1)"/><path d="M30.0,42.0C31.3,40.7 35.0,36.0 38.0,34.0C41.0,32.0 46.3,30.7 48.0,30.0" fill="none" stroke="#959595" stroke-width="2.5" stroke-linecap="round" filter="url(#b1)"/><path d="M-4.0,52.0C-1.7,49.0 6.0,54.3 10.0,54.0C14.0,53.7 17.0,52.3 20.0,50.0C23.0,47.7 25.0,43.0 28.0,40.0C31.0,37.0 34.0,34.0 38.0,32.0C42.0,30.0 47.3,28.8 52.0,28.0C56.7,27.2 61.3,26.7 66.0,27.0C70.7,27.3 75.7,28.2 80.0,30.0C84.3,31.8 88.0,35.7 92.0,38.0C96.0,40.3 102.0,33.0 104.0,44.0C106.0,55.0 109.7,94.0 104.0,104.0C98.3,114.0 79.7,105.7 70.0,104.0C60.3,102.3 53.7,97.0 46.0,94.0C38.3,91.0 30.7,88.7 24.0,86.0C17.3,83.3 10.7,80.3 6.0,78.0C1.3,75.7 -2.3,76.3 -4.0,72.0C-5.7,67.7 -6.3,55.0 -4.0,52.0Z" fill="#626262"/><path d="M-4.0,54.0C-1.3,52.3 7.3,58.0 12.0,58.0C16.7,58.0 20.7,56.3 24.0,54.0C27.3,51.7 29.0,47.0 32.0,44.0C35.0,41.0 38.0,38.0 42.0,36.0C46.0,34.0 51.3,32.7 56.0,32.0C60.7,31.3 65.7,31.0 70.0,32.0C74.3,33.0 78.7,35.3 82.0,38.0C85.3,40.7 88.0,44.3 90.0,48.0C92.0,51.7 93.0,54.7 94.0,60.0C95.0,65.3 96.3,72.7 96.0,80.0C95.7,87.3 98.0,100.0 92.0,104.0C86.0,108.0 68.3,106.3 60.0,104.0C51.7,101.7 48.3,94.0 42.0,90.0C35.7,86.0 28.3,83.0 22.0,80.0C15.7,77.0 8.3,74.0 4.0,72.0C-0.3,70.0 -2.7,71.0 -4.0,68.0C-5.3,65.0 -6.7,55.7 -4.0,54.0Z" fill="#474747"/><ellipse cx="62" cy="34" rx="12" ry="4" fill="#525252" filter="url(#b2)"/><ellipse cx="96" cy="60" rx="5" ry="12" fill="#727272" filter="url(#b2)"/><ellipse cx="91" cy="64" rx="1.5" ry="2.5" fill="#999999" filter="url(#b1)"/><ellipse cx="88" cy="93" rx="5" ry="7" fill="#a1a1a1" filter="url(#b2)"/><ellipse cx="72" cy="62" rx="5" ry="8" fill="#525252" filter="url(#b2)"/><path d="M32.0,50.0C32.3,45.3 34.0,42.5 36.0,40.0C38.0,37.5 40.7,36.0 44.0,35.0C47.3,34.0 52.3,33.5 56.0,34.0C59.7,34.5 63.3,36.0 66.0,38.0C68.7,40.0 70.7,43.0 72.0,46.0C73.3,49.0 74.3,52.7 74.0,56.0C73.7,59.3 71.7,63.0 70.0,66.0C68.3,69.0 66.0,71.7 64.0,74.0C62.0,76.3 60.7,78.7 58.0,80.0C55.3,81.3 51.0,82.3 48.0,82.0C45.0,81.7 42.3,80.3 40.0,78.0C37.7,75.7 35.3,72.7 34.0,68.0C32.7,63.3 31.7,54.7 32.0,50.0Z" fill="#393939" filter="url(#b2)"/><path d="M34.0,62.0C35.3,63.3 38.7,68.3 42.0,70.0C45.3,71.7 50.3,72.7 54.0,72.0C57.7,71.3 61.3,68.7 64.0,66.0C66.7,63.3 69.3,59.7 70.0,56.0C70.7,52.3 68.3,46.0 68.0,44.0" fill="none" stroke="#474747" stroke-width="2.5" stroke-linecap="round" filter="url(#b1)"/><path d="M52.0,88.0C54.0,88.0 60.0,89.0 64.0,88.0C68.0,87.0 72.7,85.0 76.0,82.0C79.3,79.0 82.3,74.0 84.0,70.0C85.7,66.0 86.3,62.0 86.0,58.0C85.7,54.0 82.7,48.0 82.0,46.0" fill="none" stroke="#353535" stroke-width="5" stroke-linecap="round" filter="url(#b1)"/><path d="M0.0,56.0C1.7,56.7 6.7,58.7 10.0,60.0C13.3,61.3 16.7,62.3 20.0,64.0C23.3,65.7 27.0,68.3 30.0,70.0C33.0,71.7 36.7,73.3 38.0,74.0" fill="none" stroke="#2f2f2f" stroke-width="5" stroke-linecap="round" filter="url(#b1)"/><ellipse cx="3" cy="55" rx="3" ry="3" fill="#232323" filter="url(#b1)"/><ellipse cx="19.5" cy="63" rx="3" ry="2.5" fill="#1f1f1f" transform="rotate(20 19.5 63)" filter="url(#b1)"/><ellipse cx="30" cy="71" rx="3" ry="2" fill="#252525" transform="rotate(20 30 71)" filter="url(#b1)"/><path d="M62.0,62.0C63.3,63.3 68.0,67.0 70.0,70.0C72.0,73.0 73.3,78.3 74.0,80.0" fill="none" stroke="#434343" stroke-width="3" stroke-linecap="round" filter="url(#b1)"/><path d="M44.0,72.0C45.7,73.0 50.7,76.7 54.0,78.0C57.3,79.3 62.3,79.7 64.0,80.0" fill="none" stroke="#434343" stroke-width="2.5" stroke-linecap="round" filter="url(#b1)"/></g><g id="fldc3"><ellipse cx="49" cy="48" rx="12" ry="11" fill="#292929" filter="url(#b2)"/><path d="M45.0,42.0C45.8,42.1 48.2,42.3 50.0,42.5C51.8,42.7 54.7,42.4 56.0,43.0C57.3,43.6 57.7,45.5 58.0,46.0" fill="none" stroke="#272727" stroke-width="7" stroke-linecap="round" filter="url(#b1)"/><path d="M45.0,42.5C45.8,42.5 48.2,42.6 50.0,42.8C51.8,43.0 54.2,43.0 55.5,43.5C56.8,44.0 57.2,45.2 57.5,45.5" fill="none" stroke="#1d1d1d" stroke-width="5" stroke-linecap="round"/><ellipse cx="48.4" cy="49.6" rx="4.2" ry="3.8" fill="#434343"/><ellipse cx="48.4" cy="49.6" rx="3.5" ry="3.2" fill="#959595"/><ellipse cx="48.4" cy="49.6" rx="2.8" ry="2.6" fill="#cecece"/></g><g id="fldo4"><rect x="-20" y="-20" width="140" height="140" fill="#cecece"/><path d="M-4.0,-4.0C1.7,-18.7 22.7,-5.7 30.0,-4.0C37.3,-2.3 35.0,4.3 40.0,6.0C45.0,7.7 55.0,5.7 60.0,6.0C65.0,6.3 66.7,6.0 70.0,8.0C73.3,10.0 76.3,15.0 80.0,18.0C83.7,21.0 88.0,24.0 92.0,26.0C96.0,28.0 102.0,17.0 104.0,30.0C106.0,43.0 116.3,91.7 104.0,104.0C91.7,116.3 43.3,106.0 30.0,104.0C16.7,102.0 27.3,95.0 24.0,92.0C20.7,89.0 14.7,87.3 10.0,86.0C5.3,84.7 -1.7,99.0 -4.0,84.0C-6.3,69.0 -9.7,10.7 -4.0,-4.0Z" fill="#000" filter="url(#nzA)"/><ellipse cx="34" cy="23" rx="4" ry="6" fill="#cacaca" filter="url(#b1)"/><ellipse cx="60" cy="24" rx="9" ry="5" fill="#cacaca" filter="url(#b1)"/><ellipse cx="12" cy="55" rx="3" ry="5" fill="#c8c8c8" transform="rotate(-30 12 55)" filter="url(#b1)"/><path d="M-4.0,-4.0C0.7,-19.0 19.7,-6.3 24.0,-4.0C28.3,-1.7 22.0,5.3 22.0,10.0C22.0,14.7 23.0,19.7 24.0,24.0C25.0,28.3 26.3,33.3 28.0,36.0C29.7,38.7 31.0,40.0 34.0,40.0C37.0,40.0 41.7,37.0 46.0,36.0C50.3,35.0 55.3,34.0 60.0,34.0C64.7,34.0 69.7,35.0 74.0,36.0C78.3,37.0 82.0,40.0 86.0,40.0C90.0,40.0 95.0,37.0 98.0,36.0C101.0,35.0 103.0,22.7 104.0,34.0C105.0,45.3 116.3,92.3 104.0,104.0C91.7,115.7 43.0,105.3 30.0,104.0C17.0,102.7 29.7,98.7 26.0,96.0C22.3,93.3 13.0,89.7 8.0,88.0C3.0,86.3 -2.0,101.3 -4.0,86.0C-6.0,70.7 -8.7,11.0 -4.0,-4.0Z" fill="#000" filter="url(#nzB)"/><path d="M-4.0,-4.0C0.0,-12.3 16.3,-6.3 20.0,-4.0C23.7,-1.7 18.0,5.3 18.0,10.0C18.0,14.7 20.3,19.0 20.0,24.0C19.7,29.0 18.0,36.0 16.0,40.0C14.0,44.0 11.3,47.0 8.0,48.0C4.7,49.0 -2.0,54.7 -4.0,46.0C-6.0,37.3 -8.0,4.3 -4.0,-4.0Z" fill="#000" filter="url(#nzD)"/><ellipse cx="4" cy="8" rx="4" ry="6" fill="#525252" filter="url(#b2)"/><ellipse cx="8" cy="22" rx="3" ry="5" fill="#4b4b4b" transform="rotate(20 8 22)" filter="url(#b2)"/><ellipse cx="22" cy="26" rx="1.5" ry="2.2" fill="#3b3b3b" filter="url(#b1)"/><ellipse cx="4" cy="50" rx="4" ry="6" fill="#a1a1a1" filter="url(#b1)"/><ellipse cx="12" cy="55" rx="2.5" ry="4" fill="#c4c4c4" transform="rotate(-30 12 55)" filter="url(#b1)"/><ellipse cx="89" cy="84" rx="3.5" ry="9" fill="#a1a1a1" transform="rotate(10 89 84)" filter="url(#b1)"/><path d="M-4.0,58.0C-1.7,54.7 5.7,60.3 10.0,60.0C14.3,59.7 19.0,58.3 22.0,56.0C25.0,53.7 25.7,48.7 28.0,46.0C30.3,43.3 32.7,41.5 36.0,40.0C39.3,38.5 43.7,37.5 48.0,37.0C52.3,36.5 57.3,36.5 62.0,37.0C66.7,37.5 72.0,38.5 76.0,40.0C80.0,41.5 83.0,43.3 86.0,46.0C89.0,48.7 92.0,52.0 94.0,56.0C96.0,60.0 97.7,65.0 98.0,70.0C98.3,75.0 97.7,80.3 96.0,86.0C94.3,91.7 98.3,101.0 88.0,104.0C77.7,107.0 46.0,106.0 34.0,104.0C22.0,102.0 22.3,96.0 16.0,92.0C9.7,88.0 -0.7,85.7 -4.0,80.0C-7.3,74.3 -6.3,61.3 -4.0,58.0Z" fill="#626262"/><path d="M-4.0,62.0C-1.3,60.0 7.3,64.3 12.0,64.0C16.7,63.7 21.0,62.3 24.0,60.0C27.0,57.7 27.7,53.0 30.0,50.0C32.3,47.0 34.7,43.8 38.0,42.0C41.3,40.2 45.7,39.5 50.0,39.0C54.3,38.5 59.7,38.3 64.0,39.0C68.3,39.7 72.3,40.8 76.0,43.0C79.7,45.2 83.7,48.5 86.0,52.0C88.3,55.5 89.3,59.7 90.0,64.0C90.7,68.3 91.0,73.7 90.0,78.0C89.0,82.3 87.3,86.3 84.0,90.0C80.7,93.7 75.7,98.3 70.0,100.0C64.3,101.7 56.7,101.3 50.0,100.0C43.3,98.7 36.3,95.0 30.0,92.0C23.7,89.0 17.7,84.7 12.0,82.0C6.3,79.3 -1.3,79.3 -4.0,76.0C-6.7,72.7 -6.7,64.0 -4.0,62.0Z" fill="#474747"/><path d="M91.0,46.0C91.3,47.7 92.7,52.3 93.0,56.0C93.3,59.7 93.0,66.0 93.0,68.0" fill="none" stroke="#434343" stroke-width="2.5" stroke-linecap="round" filter="url(#b1)"/><path d="M22.0,58.0C23.3,58.7 27.3,60.7 30.0,62.0C32.7,63.3 36.7,65.3 38.0,66.0" fill="none" stroke="#5e5e5e" stroke-width="3" stroke-linecap="round" filter="url(#b1)"/><path d="M52.0,64.0C55.3,61.7 60.3,60.3 64.0,58.0C67.7,55.7 71.0,50.3 74.0,50.0C77.0,49.7 80.0,53.3 82.0,56.0C84.0,58.7 85.7,62.0 86.0,66.0C86.3,70.0 85.7,76.3 84.0,80.0C82.3,83.7 79.3,86.0 76.0,88.0C72.7,90.0 68.3,91.7 64.0,92.0C59.7,92.3 54.0,91.3 50.0,90.0C46.0,88.7 42.3,86.3 40.0,84.0C37.7,81.7 35.3,78.0 36.0,76.0C36.7,74.0 41.3,74.0 44.0,72.0C46.7,70.0 48.7,66.3 52.0,64.0Z" fill="#373737" filter="url(#b2)"/><path d="M30.0,56.0C31.0,57.7 33.3,63.3 36.0,66.0C38.7,68.7 42.3,71.3 46.0,72.0C49.7,72.7 54.7,71.7 58.0,70.0C61.3,68.3 64.0,65.3 66.0,62.0C68.0,58.7 70.0,54.0 70.0,50.0C70.0,46.0 66.7,40.0 66.0,38.0" fill="none" stroke="#505050" stroke-width="3.5" stroke-linecap="round" filter="url(#b1)"/><path d="M72.0,44.0C73.3,45.3 78.0,48.7 80.0,52.0C82.0,55.3 83.7,60.0 84.0,64.0C84.3,68.0 82.3,74.0 82.0,76.0" fill="none" stroke="#3b3b3b" stroke-width="3" stroke-linecap="round" filter="url(#b1)"/><path d="M2.0,66.0C3.0,66.7 6.0,68.7 8.0,70.0C10.0,71.3 12.0,73.0 14.0,74.0C16.0,75.0 19.0,75.7 20.0,76.0" fill="none" stroke="#313131" stroke-width="4" stroke-linecap="round" filter="url(#b1)"/><ellipse cx="31" cy="71.5" rx="6.5" ry="3" fill="#272727" transform="rotate(5 31 71.5)" filter="url(#b1)"/><ellipse cx="60" cy="80" rx="14" ry="8" fill="#2f2f2f" filter="url(#b2)"/><path d="M42.0,70.0C43.7,70.7 48.7,73.5 52.0,74.0C55.3,74.5 58.7,74.3 62.0,73.0C65.3,71.7 70.3,67.2 72.0,66.0" fill="none" stroke="#434343" stroke-width="2.5" stroke-linecap="round" filter="url(#b1)"/></g><g id="fldc4"><ellipse cx="46" cy="49" rx="13" ry="12" fill="#292929" filter="url(#b2)"/><path d="M42.0,42.0C43.0,41.7 46.0,40.2 48.0,40.0C50.0,39.8 53.0,40.8 54.0,41.0" fill="none" stroke="#212121" stroke-width="3" stroke-linecap="round" filter="url(#b1)"/><path d="M46.0,59.0C47.0,59.0 50.2,59.7 52.0,59.0C53.8,58.3 56.2,55.7 57.0,55.0" fill="none" stroke="#212121" stroke-width="3" stroke-linecap="round" filter="url(#b1)"/><ellipse cx="49.7" cy="50.5" rx="4.6" ry="4.6" fill="#434343"/><ellipse cx="49.7" cy="50.5" rx="3.8" ry="3.8" fill="#898989"/><ellipse cx="49.7" cy="50.5" rx="3.1" ry="3.1" fill="#d0d0d0"/></g><linearGradient id="rb" x1="0" x2="1" y1="0" y2="0"><stop offset="0" stop-color="#008ffa"/><stop offset="0.17" stop-color="#0070e6"/><stop offset="0.21" stop-color="#2a66e0"/><stop offset="0.3" stop-color="#5a58d8"/><stop offset="0.4" stop-color="#7d46c8"/><stop offset="0.5" stop-color="#a02cb0"/><stop offset="0.6" stop-color="#bf00a0"/><stop offset="0.7" stop-color="#d60092"/><stop offset="0.8" stop-color="#e8007a"/><stop offset="0.9" stop-color="#f70064"/><stop offset="1" stop-color="#ff0052"/></linearGradient><radialGradient id="shm" cx="0.5" cy="0.5" r="0.5"><stop offset="0" stop-color="#fff"/><stop offset="0.12" stop-color="#b0b0b0"/><stop offset="0.3" stop-color="#404040"/><stop offset="0.6" stop-color="#1c1c1c"/><stop offset="1" stop-color="#0c0c0c"/></radialGradient><filter id="shf" x="0" y="0" width="100" height="100" filterUnits="userSpaceOnUse" color-interpolation-filters="sRGB"><feTurbulence type="fractalNoise" baseFrequency="0.17" numOctaves="2" seed="21" result="n"/><feColorMatrix in="n" type="matrix" values="1 0 0 0 0 1 0 0 0 0 1 0 0 0 0 0 0 0 0 1" result="ng"/><feBlend in="ng" in2="SourceGraphic" mode="multiply" result="p"/><feComposite in="p" in2="SourceGraphic" operator="arithmetic" k1="0" k2="0.3" k3="-0.120" k4="0.820" result="v"/><feComponentTransfer in="v"><feFuncR type="table" tableValues="0.000 0.000 0.000 0.000 0.000 0.000 0.000 0.000 0.000 0.000 0.000 0.000 0.000 0.000 0.000 0.000 0.000 0.000 0.000 0.000 0.000 0.000 0.000 0.000 0.000 0.000 0.000 0.000 0.000 0.000 0.000 0.000 0.000 0.000 0.000 0.000 0.000 0.000 0.000 0.000 0.000 0.000 0.000 0.000 0.000 0.000 0.020 0.070 0.120 0.170 0.220 0.270 0.320 0.370 0.420 0.470 0.520 0.570 0.620 0.670 0.720 0.770 0.820 0.870 0.920 0.970 1.000 1.000 1.000 1.000 1.000 1.000 1.000 1.000 1.000 1.000 1.000 1.000 1.000 1.000 1.000"/><feFuncG type="table" tableValues="0.000 0.000 0.000 0.000 0.000 0.000 0.000 0.000 0.000 0.000 0.000 0.000 0.000 0.000 0.000 0.000 0.000 0.000 0.000 0.000 0.000 0.000 0.000 0.000 0.000 0.000 0.000 0.000 0.000 0.000 0.000 0.000 0.000 0.000 0.000 0.000 0.000 0.000 0.000 0.000 0.000 0.000 0.000 0.000 0.000 0.000 0.020 0.070 0.120 0.170 0.220 0.270 0.320 0.370 0.420 0.470 0.520 0.570 0.620 0.670 0.720 0.770 0.820 0.870 0.920 0.970 0.980 0.930 0.880 0.830 0.780 0.730 0.680 0.630 0.580 0.530 0.480 0.430 0.380 0.330 0.280"/><feFuncB type="table" tableValues="0.300 0.300 0.300 0.300 0.300 0.300 0.300 0.300 0.300 0.300 0.300 0.300 0.300 0.300 0.300 0.300 0.300 0.300 0.300 0.300 0.300 0.300 0.300 0.300 0.300 0.300 0.314 0.349 0.384 0.419 0.454 0.489 0.524 0.559 0.594 0.629 0.664 0.699 0.734 0.769 0.804 0.839 0.874 0.909 0.944 0.979 1.000 1.000 1.000 1.000 1.000 1.000 1.000 1.000 1.000 1.000 1.000 1.000 1.000 1.000 1.000 1.000 1.000 1.000 1.000 1.000 0.980 0.930 0.880 0.830 0.780 0.730 0.680 0.630 0.580 0.530 0.480 0.430 0.380 0.330 0.280"/><feFuncA type="linear" slope="0" intercept="1"/></feComponentTransfer></filter><filter id="sb" x="-50%" y="-50%" width="200%" height="200%"><feGaussianBlur stdDeviation="0.5"/></filter><linearGradient id="bt" x1="0" x2="1" y1="0" y2="0"><stop offset="0" stop-color="#7a007a"/><stop offset="0.075" stop-color="#ff00ff"/><stop offset="0.0769" stop-color="#ffffff"/><stop offset="0.15" stop-color="#000000"/><stop offset="0.19" stop-color="#5a0000"/><stop offset="0.27" stop-color="#ff0000"/><stop offset="0.33" stop-color="#ff8000"/><stop offset="0.385" stop-color="#ffff00"/><stop offset="0.47" stop-color="#30ff00"/><stop offset="0.52" stop-color="#00b040"/><stop offset="0.6" stop-color="#0000ff"/><stop offset="0.72" stop-color="#00ffff"/><stop offset="0.7231" stop-color="#ffffff"/><stop offset="1" stop-color="#000000"/></linearGradient><linearGradient id="sw" x1="0" x2="1" y1="0" y2="0"><stop offset="0" stop-color="#00004c"/><stop offset="0.25" stop-color="#0000ff"/><stop offset="0.5" stop-color="#ffffff"/><stop offset="0.75" stop-color="#ff0000"/><stop offset="1" stop-color="#7f0000"/></linearGradient></defs><rect width="1168" height="1674" fill="#fff"/><text x="585.00" y="24.80" font-size="22.97" text-anchor="middle" fill="#000" textLength="628.50" lengthAdjust="spacingAndGlyphs">Estimated Mean Wind Speed for 06W at 20230801 0200UTC</text>
<text x="132.00" y="102.70" font-size="16.86" text-anchor="middle" fill="#000" textLength="54.52" lengthAdjust="spacingAndGlyphs">IR from</text>
<text x="132.00" y="120.20" font-size="16.86" text-anchor="middle" fill="#000" textLength="76.35" lengthAdjust="spacingAndGlyphs">20230801</text>
<text x="132.00" y="137.70" font-size="16.86" text-anchor="middle" fill="#000" textLength="87.75" lengthAdjust="spacingAndGlyphs">at 0200UTC</text>
<svg x="69.30" y="147.40" width="125.40" height="123.90" viewBox="0 0 100 100" preserveAspectRatio="none" overflow="hidden"><g filter="url(#thmap)"><use href="#fldo0"/><use href="#fldc0"/></g></svg>
<rect x="69.30" y="147.40" width="125.40" height="123.90" fill="none" stroke="#000" stroke-width="1.1"/>
<text x="274.45" y="102.70" font-size="16.86" text-anchor="middle" fill="#000" textLength="54.52" lengthAdjust="spacingAndGlyphs">IR from</text>
<text x="274.45" y="120.20" font-size="16.86" text-anchor="middle" fill="#000" textLength="76.35" lengthAdjust="spacingAndGlyphs">20230731</text>
<text x="274.45" y="137.70" font-size="16.86" text-anchor="middle" fill="#000" textLength="87.75" lengthAdjust="spacingAndGlyphs">at 2300UTC</text>
<svg x="211.75" y="147.40" width="125.40" height="123.90" viewBox="0 0 100 100" preserveAspectRatio="none" overflow="hidden"><g filter="url(#thmap)"><use href="#fldo1"/><use href="#fldc1"/></g></svg>
<rect x="211.75" y="147.40" width="125.40" height="123.90" fill="none" stroke="#000" stroke-width="1.1"/>
<text x="416.90" y="102.70" font-size="16.86" text-anchor="middle" fill="#000" textLength="54.52" lengthAdjust="spacingAndGlyphs">IR from</text>
<text x="416.90" y="120.20" font-size="16.86" text-anchor="middle" fill="#000" textLength="76.35" lengthAdjust="spacingAndGlyphs">20230731</text>
<text x="416.90" y="137.70" font-size="16.86" text-anchor="middle" fill="#000" textLength="87.75" lengthAdjust="spacingAndGlyphs">at 2000UTC</text>
<svg x="354.20" y="147.40" width="125.40" height="123.90" viewBox="0 0 100 100" preserveAspectRatio="none" overflow="hidden"><g filter="url(#thmap)"><use href="#fldo2"/><use href="#fldc2"/></g></svg>
<rect x="354.20" y="147.40" width="125.40" height="123.90" fill="none" stroke="#000" stroke-width="1.1"/>
<text x="559.35" y="102.70" font-size="16.86" text-anchor="middle" fill="#000" textLength="54.52" lengthAdjust="spacingAndGlyphs">IR from</text>
<text x="559.35" y="120.20" font-size="16.86" text-anchor="middle" fill="#000" textLength="76.35" lengthAdjust="spacingAndGlyphs">20230731</text>
<text x="559.35" y="137.70" font-size="16.86" text-anchor="middle" fill="#000" textLength="87.75" lengthAdjust="spacingAndGlyphs">at 1700UTC</text>
<svg x="496.65" y="147.40" width="125.40" height="123.90" viewBox="0 0 100 100" preserveAspectRatio="none" overflow="hidden"><g filter="url(#thmap)"><use href="#fldo3"/><use href="#fldc3"/></g></svg>
<rect x="496.65" y="147.40" width="125.40" height="123.90" fill="none" stroke="#000" stroke-width="1.1"/>
<text x="701.80" y="102.70" font-size="16.86" text-anchor="middle" fill="#000" textLength="54.52" lengthAdjust="spacingAndGlyphs">IR from</text>
<text x="701.80" y="120.20" font-size="16.86" text-anchor="middle" fill="#000" textLength="76.35" lengthAdjust="spacingAndGlyphs">20230731</text>
<text x="701.80" y="137.70" font-size="16.86" text-anchor="middle" fill="#000" textLength="87.75" lengthAdjust="spacingAndGlyphs">at 1400UTC</text>
<svg x="639.10" y="147.40" width="125.40" height="123.90" viewBox="0 0 100 100" preserveAspectRatio="none" overflow="hidden"><g filter="url(#thmap)"><use href="#fldo4"/><use href="#fldc4"/></g></svg>
<rect x="639.10" y="147.40" width="125.40" height="123.90" fill="none" stroke="#000" stroke-width="1.1"/>
<path d="M802.10,359.30V357.90H941.00V359.30ZM941.00,359.30V339.00H946.00V359.30ZM946.00,359.30V318.00H952.90V359.30ZM952.90,359.30V284.00H960.00V359.30ZM960.00,359.30V215.10H967.00V359.30ZM967.00,359.30V172.00H972.00V359.30ZM972.00,359.30V148.10H976.00V359.30ZM976.00,359.30V121.90H983.00V359.30ZM983.00,359.30V149.20H988.80V359.30ZM988.80,359.30V170.20H994.00V359.30ZM994.00,359.30V223.00H1000.80V359.30ZM1000.80,359.30V279.10H1006.90V359.30ZM1006.90,359.30V324.00H1015.80V359.30ZM1015.80,359.30V343.10H1021.90V359.30ZM1021.90,359.30V357.00H1074.70V359.30Z" fill="#8b008b"/>
<path d="M976.80,352.60H982.8V358.60H976.8ZM976.80,337.90H982.8V343.90H976.8ZM976.80,323.20H982.8V329.20H976.8ZM976.80,308.50H982.8V314.50H976.8ZM976.80,293.80H982.8V299.80H976.8ZM976.80,279.10H982.8V285.10H976.8ZM976.80,264.40H982.8V270.40H976.8ZM976.80,249.70H982.8V255.70H976.8ZM976.80,235.00H982.8V241.00H976.8ZM976.80,220.30H982.8V226.30H976.8ZM976.80,205.60H982.8V211.60H976.8ZM976.80,190.90H982.8V196.90H976.8ZM976.80,176.20H982.8V182.20H976.8ZM976.80,161.50H982.8V167.50H976.8ZM976.80,146.80H982.8V152.80H976.8ZM976.80,132.10H982.8V138.10H976.8ZM976.80,117.40H982.8V123.40H976.8ZM976.80,102.70H982.8V108.70H976.8ZM976.80,88.00H982.8V94.00H976.8ZM976.80,73.30H982.8V79.30H976.8ZM976.80,59.50H982.8V64.60H976.8Z" fill="#aaaaaa"/>
<line x1="983.20" y1="59.50" x2="983.20" y2="359.30" stroke="#000" stroke-width="2.0"/>
<rect x="784.50" y="59.50" width="299.90" height="299.80" fill="none" stroke="#000" stroke-width="1.1"/>
<text x="934.00" y="50.00" font-size="16.57" text-anchor="middle" fill="#000" textLength="170.40" lengthAdjust="spacingAndGlyphs">Estimated MSW, knots</text>
<line x1="1079.40" y1="359.70" x2="1084.40" y2="359.70" stroke="#000" stroke-width="1.1"/>
<line x1="784.50" y1="359.70" x2="789.50" y2="359.70" stroke="#000" stroke-width="1.1"/>
<text x="1090.30" y="366.10" font-size="13.95" text-anchor="start" fill="#000" textLength="18.90" lengthAdjust="spacingAndGlyphs">0.0</text>
<line x1="1079.40" y1="311.52" x2="1084.40" y2="311.52" stroke="#000" stroke-width="1.1"/>
<line x1="784.50" y1="311.52" x2="789.50" y2="311.52" stroke="#000" stroke-width="1.1"/>
<text x="1090.30" y="317.92" font-size="13.95" text-anchor="start" fill="#000" textLength="18.90" lengthAdjust="spacingAndGlyphs">0.2</text>
<line x1="1079.40" y1="263.34" x2="1084.40" y2="263.34" stroke="#000" stroke-width="1.1"/>
<line x1="784.50" y1="263.34" x2="789.50" y2="263.34" stroke="#000" stroke-width="1.1"/>
<text x="1090.30" y="269.74" font-size="13.95" text-anchor="start" fill="#000" textLength="18.90" lengthAdjust="spacingAndGlyphs">0.4</text>
<line x1="1079.40" y1="215.16" x2="1084.40" y2="215.16" stroke="#000" stroke-width="1.1"/>
<line x1="784.50" y1="215.16" x2="789.50" y2="215.16" stroke="#000" stroke-width="1.1"/>
<text x="1090.30" y="221.56" font-size="13.95" text-anchor="start" fill="#000" textLength="18.90" lengthAdjust="spacingAndGlyphs">0.6</text>
<line x1="1079.40" y1="166.98" x2="1084.40" y2="166.98" stroke="#000" stroke-width="1.1"/>
<line x1="784.50" y1="166.98" x2="789.50" y2="166.98" stroke="#000" stroke-width="1.1"/>
<text x="1090.30" y="173.38" font-size="13.95" text-anchor="start" fill="#000" textLength="18.90" lengthAdjust="spacingAndGlyphs">0.8</text>
<line x1="1079.40" y1="118.80" x2="1084.40" y2="118.80" stroke="#000" stroke-width="1.1"/>
<line x1="784.50" y1="118.80" x2="789.50" y2="118.80" stroke="#000" stroke-width="1.1"/>
<text x="1090.30" y="125.20" font-size="13.95" text-anchor="start" fill="#000" textLength="18.90" lengthAdjust="spacingAndGlyphs">1.0</text>
<line x1="1079.40" y1="70.62" x2="1084.40" y2="70.62" stroke="#000" stroke-width="1.1"/>
<line x1="784.50" y1="70.62" x2="789.50" y2="70.62" stroke="#000" stroke-width="1.1"/>
<text x="1090.30" y="77.02" font-size="13.95" text-anchor="start" fill="#000" textLength="18.90" lengthAdjust="spacingAndGlyphs">1.2</text>
<line x1="819.34" y1="359.30" x2="819.34" y2="364.30" stroke="#000" stroke-width="1.1"/>
<text x="819.34" y="381.00" font-size="13.95" text-anchor="middle" fill="#000" textLength="16.06" lengthAdjust="spacingAndGlyphs">25</text>
<line x1="863.58" y1="359.30" x2="863.58" y2="364.30" stroke="#000" stroke-width="1.1"/>
<text x="863.58" y="381.00" font-size="13.95" text-anchor="middle" fill="#000" textLength="16.06" lengthAdjust="spacingAndGlyphs">50</text>
<line x1="907.82" y1="359.30" x2="907.82" y2="364.30" stroke="#000" stroke-width="1.1"/>
<text x="907.82" y="381.00" font-size="13.95" text-anchor="middle" fill="#000" textLength="16.06" lengthAdjust="spacingAndGlyphs">75</text>
<line x1="952.06" y1="359.30" x2="952.06" y2="364.30" stroke="#000" stroke-width="1.1"/>
<text x="952.06" y="381.00" font-size="13.95" text-anchor="middle" fill="#000" textLength="24.07" lengthAdjust="spacingAndGlyphs">100</text>
<line x1="996.30" y1="359.30" x2="996.30" y2="364.30" stroke="#000" stroke-width="1.1"/>
<text x="996.30" y="381.00" font-size="13.95" text-anchor="middle" fill="#000" textLength="24.07" lengthAdjust="spacingAndGlyphs">125</text>
<line x1="1040.54" y1="359.30" x2="1040.54" y2="364.30" stroke="#000" stroke-width="1.1"/>
<text x="1040.54" y="381.00" font-size="13.95" text-anchor="middle" fill="#000" textLength="24.07" lengthAdjust="spacingAndGlyphs">150</text>
<text x="1127.30" y="211.10" font-size="14.53" text-anchor="middle" fill="#000" textLength="90.20" lengthAdjust="spacingAndGlyphs" transform="rotate(-90 1127.30 211.10)">Relative Prob</text>
<line x1="761.80" y1="396.00" x2="794.10" y2="396.00" stroke="#000" stroke-width="2.0"/>
<text x="805.90" y="402.20" font-size="17.44" text-anchor="start" fill="#000" textLength="94.00" lengthAdjust="spacingAndGlyphs">JTWC official</text>
<rect x="932.20" y="393.00" width="5.30" height="6.00" fill="#aaaaaa"/>
<rect x="946.70" y="393.00" width="5.60" height="6.00" fill="#aaaaaa"/>
<rect x="960.90" y="393.00" width="1.60" height="6.00" fill="#aaaaaa"/>
<text x="975.40" y="402.20" font-size="17.44" text-anchor="start" fill="#000" textLength="129.50" lengthAdjust="spacingAndGlyphs">D-PRINT average</text>
<line x1="67.60" y1="461.70" x2="467.90" y2="461.70" stroke="#e0e0e0" stroke-width="0.8" stroke-dasharray="1,2"/>
<line x1="67.60" y1="479.00" x2="467.90" y2="479.00" stroke="#e6e6e6" stroke-width="1.0"/>
<line x1="67.60" y1="496.30" x2="467.90" y2="496.30" stroke="#e0e0e0" stroke-width="0.8" stroke-dasharray="1,2"/>
<line x1="67.60" y1="513.60" x2="467.90" y2="513.60" stroke="#e6e6e6" stroke-width="1.0"/>
<line x1="67.60" y1="530.90" x2="467.90" y2="530.90" stroke="#e0e0e0" stroke-width="0.8" stroke-dasharray="1,2"/>
<line x1="67.60" y1="548.20" x2="467.90" y2="548.20" stroke="#e6e6e6" stroke-width="1.0"/>
<line x1="67.60" y1="565.50" x2="467.90" y2="565.50" stroke="#e0e0e0" stroke-width="0.8" stroke-dasharray="1,2"/>
<line x1="67.60" y1="582.80" x2="467.90" y2="582.80" stroke="#e6e6e6" stroke-width="1.0"/>
<line x1="67.60" y1="600.10" x2="467.90" y2="600.10" stroke="#e0e0e0" stroke-width="0.8" stroke-dasharray="1,2"/>
<line x1="67.60" y1="617.40" x2="467.90" y2="617.40" stroke="#e6e6e6" stroke-width="1.0"/>
<line x1="67.60" y1="634.70" x2="467.90" y2="634.70" stroke="#e0e0e0" stroke-width="0.8" stroke-dasharray="1,2"/>
<line x1="67.60" y1="652.00" x2="467.90" y2="652.00" stroke="#e6e6e6" stroke-width="1.0"/>
<line x1="67.60" y1="669.30" x2="467.90" y2="669.30" stroke="#e0e0e0" stroke-width="0.8" stroke-dasharray="1,2"/>
<line x1="67.60" y1="686.60" x2="467.90" y2="686.60" stroke="#e6e6e6" stroke-width="1.0"/>
<line x1="67.60" y1="703.90" x2="467.90" y2="703.90" stroke="#e0e0e0" stroke-width="0.8" stroke-dasharray="1,2"/>
<line x1="67.60" y1="721.20" x2="467.90" y2="721.20" stroke="#e6e6e6" stroke-width="1.0"/>
<line x1="67.60" y1="738.50" x2="467.90" y2="738.50" stroke="#e0e0e0" stroke-width="0.8" stroke-dasharray="1,2"/>
<line x1="67.60" y1="755.80" x2="467.90" y2="755.80" stroke="#e6e6e6" stroke-width="1.0"/>
<line x1="67.60" y1="773.10" x2="467.90" y2="773.10" stroke="#e0e0e0" stroke-width="0.8" stroke-dasharray="1,2"/>
<line x1="67.60" y1="790.40" x2="467.90" y2="790.40" stroke="#e6e6e6" stroke-width="1.0"/>
<line x1="67.60" y1="807.70" x2="467.90" y2="807.70" stroke="#e0e0e0" stroke-width="0.8" stroke-dasharray="1,2"/>
<line x1="67.60" y1="825.00" x2="467.90" y2="825.00" stroke="#e6e6e6" stroke-width="1.0"/>
<line x1="67.60" y1="842.30" x2="467.90" y2="842.30" stroke="#e0e0e0" stroke-width="0.8" stroke-dasharray="1,2"/>
<line x1="67.60" y1="859.60" x2="467.90" y2="859.60" stroke="#e6e6e6" stroke-width="1.0"/>
<line x1="67.60" y1="876.90" x2="467.90" y2="876.90" stroke="#e0e0e0" stroke-width="0.8" stroke-dasharray="1,2"/>
<line x1="67.60" y1="894.20" x2="467.90" y2="894.20" stroke="#e6e6e6" stroke-width="1.0"/>
<line x1="67.60" y1="911.50" x2="467.90" y2="911.50" stroke="#e0e0e0" stroke-width="0.8" stroke-dasharray="1,2"/>
<line x1="67.60" y1="928.80" x2="467.90" y2="928.80" stroke="#e6e6e6" stroke-width="1.0"/>
<line x1="67.60" y1="946.10" x2="467.90" y2="946.10" stroke="#e0e0e0" stroke-width="0.8" stroke-dasharray="1,2"/>
<line x1="67.60" y1="963.40" x2="467.90" y2="963.40" stroke="#e6e6e6" stroke-width="1.0"/>
<line x1="67.60" y1="980.70" x2="467.90" y2="980.70" stroke="#e0e0e0" stroke-width="0.8" stroke-dasharray="1,2"/>
<line x1="67.60" y1="998.00" x2="467.90" y2="998.00" stroke="#e6e6e6" stroke-width="1.0"/>
<line x1="67.60" y1="1015.30" x2="467.90" y2="1015.30" stroke="#e0e0e0" stroke-width="0.8" stroke-dasharray="1,2"/>
<line x1="67.60" y1="1032.60" x2="467.90" y2="1032.60" stroke="#e6e6e6" stroke-width="1.0"/>
<line x1="67.60" y1="1049.90" x2="467.90" y2="1049.90" stroke="#e0e0e0" stroke-width="0.8" stroke-dasharray="1,2"/>
<line x1="67.60" y1="1067.20" x2="467.90" y2="1067.20" stroke="#e6e6e6" stroke-width="1.0"/>
<line x1="67.60" y1="1084.50" x2="467.90" y2="1084.50" stroke="#e0e0e0" stroke-width="0.8" stroke-dasharray="1,2"/>
<line x1="67.60" y1="1101.80" x2="467.90" y2="1101.80" stroke="#e6e6e6" stroke-width="1.0"/>
<line x1="67.60" y1="1119.10" x2="467.90" y2="1119.10" stroke="#e0e0e0" stroke-width="0.8" stroke-dasharray="1,2"/>
<line x1="67.60" y1="1136.40" x2="467.90" y2="1136.40" stroke="#e6e6e6" stroke-width="1.0"/>
<line x1="67.60" y1="1153.70" x2="467.90" y2="1153.70" stroke="#e0e0e0" stroke-width="0.8" stroke-dasharray="1,2"/>
<line x1="67.60" y1="1171.00" x2="467.90" y2="1171.00" stroke="#e6e6e6" stroke-width="1.0"/>
<line x1="67.60" y1="1188.30" x2="467.90" y2="1188.30" stroke="#e0e0e0" stroke-width="0.8" stroke-dasharray="1,2"/>
<line x1="67.60" y1="1205.60" x2="467.90" y2="1205.60" stroke="#e6e6e6" stroke-width="1.0"/>
<line x1="67.60" y1="1222.90" x2="467.90" y2="1222.90" stroke="#e0e0e0" stroke-width="0.8" stroke-dasharray="1,2"/>
<line x1="67.60" y1="1240.20" x2="467.90" y2="1240.20" stroke="#e6e6e6" stroke-width="1.0"/>
<line x1="67.60" y1="1257.50" x2="467.90" y2="1257.50" stroke="#e0e0e0" stroke-width="0.8" stroke-dasharray="1,2"/>
<line x1="67.60" y1="1274.80" x2="467.90" y2="1274.80" stroke="#e6e6e6" stroke-width="1.0"/>
<line x1="67.60" y1="1292.10" x2="467.90" y2="1292.10" stroke="#e0e0e0" stroke-width="0.8" stroke-dasharray="1,2"/>
<line x1="67.60" y1="1309.40" x2="467.90" y2="1309.40" stroke="#e6e6e6" stroke-width="1.0"/>
<line x1="67.60" y1="1326.70" x2="467.90" y2="1326.70" stroke="#e0e0e0" stroke-width="0.8" stroke-dasharray="1,2"/>
<line x1="67.60" y1="1344.00" x2="467.90" y2="1344.00" stroke="#e6e6e6" stroke-width="1.0"/>
<line x1="67.60" y1="1361.30" x2="467.90" y2="1361.30" stroke="#e0e0e0" stroke-width="0.8" stroke-dasharray="1,2"/>
<line x1="67.60" y1="1378.60" x2="467.90" y2="1378.60" stroke="#e6e6e6" stroke-width="1.0"/>
<line x1="67.60" y1="1395.90" x2="467.90" y2="1395.90" stroke="#e0e0e0" stroke-width="0.8" stroke-dasharray="1,2"/>
<line x1="67.60" y1="1413.20" x2="467.90" y2="1413.20" stroke="#e6e6e6" stroke-width="1.0"/>
<line x1="67.60" y1="1430.50" x2="467.90" y2="1430.50" stroke="#e0e0e0" stroke-width="0.8" stroke-dasharray="1,2"/>
<line x1="67.60" y1="1447.80" x2="467.90" y2="1447.80" stroke="#e6e6e6" stroke-width="1.0"/>
<line x1="67.60" y1="1465.10" x2="467.90" y2="1465.10" stroke="#e0e0e0" stroke-width="0.8" stroke-dasharray="1,2"/>
<line x1="67.60" y1="1482.40" x2="467.90" y2="1482.40" stroke="#e6e6e6" stroke-width="1.0"/>
<line x1="67.60" y1="1499.70" x2="467.90" y2="1499.70" stroke="#e0e0e0" stroke-width="0.8" stroke-dasharray="1,2"/>
<line x1="67.60" y1="1517.00" x2="467.90" y2="1517.00" stroke="#e6e6e6" stroke-width="1.0"/>
<line x1="67.60" y1="1534.30" x2="467.90" y2="1534.30" stroke="#e0e0e0" stroke-width="0.8" stroke-dasharray="1,2"/>
<line x1="166.05" y1="444.40" x2="166.05" y2="1551.40" stroke="#b0b0b0" stroke-width="1.6"/>
<circle cx="305.40" cy="461.70" r="3.6" fill="#e8088a"/>
<circle cx="219.00" cy="496.30" r="3.6" fill="#ff0055"/>
<circle cx="284.60" cy="530.90" r="3.6" fill="#1a6fe6"/>
<circle cx="242.20" cy="565.50" r="3.6" fill="#d0008e"/>
<circle cx="449.60" cy="600.10" r="3.6" fill="#e0008a"/>
<circle cx="131.60" cy="634.70" r="3.6" fill="#b010b0"/>
<circle cx="119.70" cy="669.30" r="3.6" fill="#7a4ccc"/>
<circle cx="85.60" cy="703.90" r="3.6" fill="#008bfa"/>
<circle cx="122.60" cy="738.50" r="3.6" fill="#5b55d8"/>
<circle cx="123.30" cy="773.10" r="3.6" fill="#2a6af0"/>
<circle cx="119.70" cy="807.70" r="3.6" fill="#2e66ea"/>
<circle cx="129.80" cy="842.30" r="3.6" fill="#7b4ad0"/>
<circle cx="136.20" cy="876.90" r="3.6" fill="#e8006e"/>
<circle cx="124.20" cy="911.50" r="3.6" fill="#8040c0"/>
<circle cx="142.20" cy="946.10" r="3.6" fill="#ff0066"/>
<circle cx="120.80" cy="980.70" r="3.6" fill="#e0007e"/>
<circle cx="125.80" cy="1015.30" r="3.6" fill="#5f58d8"/>
<circle cx="124.20" cy="1049.90" r="3.6" fill="#0a85f5"/>
<circle cx="126.70" cy="1084.50" r="3.6" fill="#0a85f8"/>
<circle cx="122.20" cy="1119.10" r="3.6" fill="#0a85f8"/>
<circle cx="121.70" cy="1153.70" r="3.6" fill="#ff0050"/>
<circle cx="120.20" cy="1188.30" r="3.6" fill="#c0009a"/>
<circle cx="124.70" cy="1222.90" r="3.6" fill="#0a85f5"/>
<circle cx="130.30" cy="1257.50" r="3.6" fill="#f00068"/>
<circle cx="127.60" cy="1292.10" r="3.6" fill="#0a70f0"/>
<circle cx="117.50" cy="1326.70" r="3.6" fill="#f00068"/>
<circle cx="122.00" cy="1361.30" r="3.6" fill="#9030c0"/>
<circle cx="122.00" cy="1395.90" r="3.6" fill="#c0009e"/>
<circle cx="126.50" cy="1430.50" r="3.6" fill="#c800a0"/>
<circle cx="122.90" cy="1465.10" r="3.6" fill="#d0009a"/>
<circle cx="123.60" cy="1499.70" r="3.6" fill="#d80094"/>
<circle cx="125.30" cy="1534.30" r="3.6" fill="#e00090"/>
<rect x="67.60" y="444.40" width="400.30" height="1107.00" fill="none" stroke="#808080" stroke-width="1.3"/>
<line x1="65.20" y1="461.70" x2="67.60" y2="461.70" stroke="#555" stroke-width="1.0"/>
<line x1="467.90" y1="461.70" x2="470.30" y2="461.70" stroke="#555" stroke-width="1.0"/>
<text x="62.00" y="464.80" font-size="9.16" text-anchor="end" fill="#333" textLength="39.24" lengthAdjust="spacingAndGlyphs">0h_old_IR</text>
<text x="473.00" y="460.20" font-size="12.50" text-anchor="start" fill="#000" textLength="77.38" lengthAdjust="spacingAndGlyphs">0h old IR data</text>
<text x="473.00" y="473.40" font-size="12.50" text-anchor="start" fill="#000" textLength="120.16" lengthAdjust="spacingAndGlyphs">(128x128 grid points)</text>
<line x1="65.20" y1="496.30" x2="67.60" y2="496.30" stroke="#555" stroke-width="1.0"/>
<line x1="467.90" y1="496.30" x2="470.30" y2="496.30" stroke="#555" stroke-width="1.0"/>
<text x="62.00" y="499.40" font-size="9.16" text-anchor="end" fill="#333" textLength="39.24" lengthAdjust="spacingAndGlyphs">3h_old_IR</text>
<text x="473.00" y="494.80" font-size="12.50" text-anchor="start" fill="#000" textLength="77.38" lengthAdjust="spacingAndGlyphs">3h old IR data</text>
<text x="473.00" y="508.00" font-size="12.50" text-anchor="start" fill="#000" textLength="120.16" lengthAdjust="spacingAndGlyphs">(128x128 grid points)</text>
<line x1="65.20" y1="530.90" x2="67.60" y2="530.90" stroke="#555" stroke-width="1.0"/>
<line x1="467.90" y1="530.90" x2="470.30" y2="530.90" stroke="#555" stroke-width="1.0"/>
<text x="62.00" y="534.00" font-size="9.16" text-anchor="end" fill="#333" textLength="39.24" lengthAdjust="spacingAndGlyphs">6h_old_IR</text>
<text x="473.00" y="529.40" font-size="12.50" text-anchor="start" fill="#000" textLength="77.38" lengthAdjust="spacingAndGlyphs">6h old IR data</text>
<text x="473.00" y="542.60" font-size="12.50" text-anchor="start" fill="#000" textLength="120.16" lengthAdjust="spacingAndGlyphs">(128x128 grid points)</text>
<line x1="65.20" y1="565.50" x2="67.60" y2="565.50" stroke="#555" stroke-width="1.0"/>
<line x1="467.90" y1="565.50" x2="470.30" y2="565.50" stroke="#555" stroke-width="1.0"/>
<text x="62.00" y="568.60" font-size="9.16" text-anchor="end" fill="#333" textLength="39.24" lengthAdjust="spacingAndGlyphs">9h_old_IR</text>
<text x="473.00" y="564.00" font-size="12.50" text-anchor="start" fill="#000" textLength="77.38" lengthAdjust="spacingAndGlyphs">9h old IR data</text>
<text x="473.00" y="577.20" font-size="12.50" text-anchor="start" fill="#000" textLength="120.16" lengthAdjust="spacingAndGlyphs">(128x128 grid points)</text>
<line x1="65.20" y1="600.10" x2="67.60" y2="600.10" stroke="#555" stroke-width="1.0"/>
<line x1="467.90" y1="600.10" x2="470.30" y2="600.10" stroke="#555" stroke-width="1.0"/>
<text x="62.00" y="603.20" font-size="9.16" text-anchor="end" fill="#333" textLength="44.44" lengthAdjust="spacingAndGlyphs">12h_old_IR</text>
<text x="473.00" y="598.60" font-size="12.50" text-anchor="start" fill="#000" textLength="84.41" lengthAdjust="spacingAndGlyphs">12h old IR data</text>
<text x="473.00" y="611.80" font-size="12.50" text-anchor="start" fill="#000" textLength="120.16" lengthAdjust="spacingAndGlyphs">(128x128 grid points)</text>
<line x1="65.20" y1="634.70" x2="67.60" y2="634.70" stroke="#555" stroke-width="1.0"/>
<line x1="467.90" y1="634.70" x2="470.30" y2="634.70" stroke="#555" stroke-width="1.0"/>
<text x="62.00" y="637.80" font-size="9.16" text-anchor="end" fill="#333" textLength="26.36" lengthAdjust="spacingAndGlyphs">sin_lat</text>
<text x="473.00" y="639.10" font-size="12.50" text-anchor="start" fill="#000" textLength="87.18" lengthAdjust="spacingAndGlyphs">Sine of Latitude</text>
<line x1="65.20" y1="669.30" x2="67.60" y2="669.30" stroke="#555" stroke-width="1.0"/>
<line x1="467.90" y1="669.30" x2="470.30" y2="669.30" stroke="#555" stroke-width="1.0"/>
<text x="62.00" y="672.40" font-size="9.16" text-anchor="end" fill="#333" textLength="30.38" lengthAdjust="spacingAndGlyphs">cos_lon</text>
<text x="473.00" y="673.70" font-size="12.50" text-anchor="start" fill="#000" textLength="109.93" lengthAdjust="spacingAndGlyphs">Cosine of Longitude</text>
<line x1="65.20" y1="703.90" x2="67.60" y2="703.90" stroke="#555" stroke-width="1.0"/>
<line x1="467.90" y1="703.90" x2="470.30" y2="703.90" stroke="#555" stroke-width="1.0"/>
<text x="62.00" y="707.00" font-size="9.16" text-anchor="end" fill="#333" textLength="28.33" lengthAdjust="spacingAndGlyphs">sin_lon</text>
<text x="473.00" y="708.30" font-size="12.50" text-anchor="start" fill="#000" textLength="96.70" lengthAdjust="spacingAndGlyphs">Sine of Longitude</text>
<line x1="65.20" y1="738.50" x2="67.60" y2="738.50" stroke="#555" stroke-width="1.0"/>
<line x1="467.90" y1="738.50" x2="470.30" y2="738.50" stroke="#555" stroke-width="1.0"/>
<text x="62.00" y="741.60" font-size="9.16" text-anchor="end" fill="#333" textLength="57.56" lengthAdjust="spacingAndGlyphs">sin_local_time</text>
<text x="473.00" y="737.00" font-size="12.50" text-anchor="start" fill="#000" textLength="108.32" lengthAdjust="spacingAndGlyphs">Sine of Time of Day</text>
<text x="473.00" y="750.20" font-size="12.50" text-anchor="start" fill="#000" textLength="99.69" lengthAdjust="spacingAndGlyphs">(Local Solar Time)</text>
<line x1="65.20" y1="773.10" x2="67.60" y2="773.10" stroke="#555" stroke-width="1.0"/>
<line x1="467.90" y1="773.10" x2="470.30" y2="773.10" stroke="#555" stroke-width="1.0"/>
<text x="62.00" y="776.20" font-size="9.16" text-anchor="end" fill="#333" textLength="14.43" lengthAdjust="spacingAndGlyphs">MPI</text>
<text x="473.00" y="777.50" font-size="12.50" text-anchor="start" fill="#000" textLength="158.80" lengthAdjust="spacingAndGlyphs">Maximum potential intensity</text>
<line x1="65.20" y1="807.70" x2="67.60" y2="807.70" stroke="#555" stroke-width="1.0"/>
<line x1="467.90" y1="807.70" x2="470.30" y2="807.70" stroke="#555" stroke-width="1.0"/>
<text x="62.00" y="810.80" font-size="9.16" text-anchor="end" fill="#333" textLength="18.82" lengthAdjust="spacingAndGlyphs">HIST</text>
<text x="473.00" y="806.20" font-size="12.50" text-anchor="start" fill="#000" textLength="145.57" lengthAdjust="spacingAndGlyphs">The # of 6h periods VMAX</text>
<text x="473.00" y="819.40" font-size="12.50" text-anchor="start" fill="#000" textLength="116.57" lengthAdjust="spacingAndGlyphs">has been above 20kt</text>
<line x1="65.20" y1="842.30" x2="67.60" y2="842.30" stroke="#555" stroke-width="1.0"/>
<line x1="467.90" y1="842.30" x2="470.30" y2="842.30" stroke="#555" stroke-width="1.0"/>
<text x="62.00" y="845.40" font-size="9.16" text-anchor="end" fill="#333" textLength="20.79" lengthAdjust="spacingAndGlyphs">DELV</text>
<text x="473.00" y="846.70" font-size="12.50" text-anchor="start" fill="#000" textLength="153.26" lengthAdjust="spacingAndGlyphs">-12h to 0h Intensity change</text>
<line x1="65.20" y1="876.90" x2="67.60" y2="876.90" stroke="#555" stroke-width="1.0"/>
<line x1="467.90" y1="876.90" x2="470.30" y2="876.90" stroke="#555" stroke-width="1.0"/>
<text x="62.00" y="880.00" font-size="9.16" text-anchor="end" fill="#333" textLength="21.16" lengthAdjust="spacingAndGlyphs">RSST</text>
<text x="473.00" y="881.30" font-size="12.50" text-anchor="start" fill="#000" textLength="74.61" lengthAdjust="spacingAndGlyphs">Reynolds SST</text>
<line x1="65.20" y1="911.50" x2="67.60" y2="911.50" stroke="#555" stroke-width="1.0"/>
<line x1="467.90" y1="911.50" x2="470.30" y2="911.50" stroke="#555" stroke-width="1.0"/>
<text x="62.00" y="914.60" font-size="9.16" text-anchor="end" fill="#333" textLength="24.07" lengthAdjust="spacingAndGlyphs">COHC</text>
<text x="473.00" y="915.90" font-size="12.50" text-anchor="start" fill="#000" textLength="194.72" lengthAdjust="spacingAndGlyphs">Climatological Ocean Heat Content</text>
<line x1="65.20" y1="946.10" x2="67.60" y2="946.10" stroke="#555" stroke-width="1.0"/>
<line x1="467.90" y1="946.10" x2="470.30" y2="946.10" stroke="#555" stroke-width="1.0"/>
<text x="62.00" y="949.20" font-size="9.16" text-anchor="end" fill="#333" textLength="22.47" lengthAdjust="spacingAndGlyphs">CD20</text>
<text x="473.00" y="944.60" font-size="12.50" text-anchor="start" fill="#000" textLength="128.63" lengthAdjust="spacingAndGlyphs">Climatological depth of</text>
<text x="473.00" y="957.80" font-size="12.50" text-anchor="start" fill="#000" textLength="83.30" lengthAdjust="spacingAndGlyphs">20° C isotherm</text>
<line x1="65.20" y1="980.70" x2="67.60" y2="980.70" stroke="#555" stroke-width="1.0"/>
<line x1="467.90" y1="980.70" x2="470.30" y2="980.70" stroke="#555" stroke-width="1.0"/>
<text x="62.00" y="983.80" font-size="9.16" text-anchor="end" fill="#333" textLength="22.47" lengthAdjust="spacingAndGlyphs">CD26</text>
<text x="473.00" y="979.20" font-size="12.50" text-anchor="start" fill="#000" textLength="128.63" lengthAdjust="spacingAndGlyphs">Climatological depth of</text>
<text x="473.00" y="992.40" font-size="12.50" text-anchor="start" fill="#000" textLength="83.30" lengthAdjust="spacingAndGlyphs">26° C isotherm</text>
<line x1="65.20" y1="1015.30" x2="67.60" y2="1015.30" stroke="#555" stroke-width="1.0"/>
<line x1="467.90" y1="1015.30" x2="470.30" y2="1015.30" stroke="#555" stroke-width="1.0"/>
<text x="62.00" y="1018.40" font-size="9.16" text-anchor="end" fill="#333" textLength="15.91" lengthAdjust="spacingAndGlyphs">DTL</text>
<text x="473.00" y="1019.70" font-size="12.50" text-anchor="start" fill="#000" textLength="93.54" lengthAdjust="spacingAndGlyphs">Distance to Land</text>
<line x1="65.20" y1="1049.90" x2="67.60" y2="1049.90" stroke="#555" stroke-width="1.0"/>
<line x1="467.90" y1="1049.90" x2="470.30" y2="1049.90" stroke="#555" stroke-width="1.0"/>
<text x="62.00" y="1053.00" font-size="9.16" text-anchor="end" fill="#333" textLength="21.65" lengthAdjust="spacingAndGlyphs">U200</text>
<text x="473.00" y="1054.30" font-size="12.50" text-anchor="start" fill="#000" textLength="182.93" lengthAdjust="spacingAndGlyphs">200hPa zonal wind (200-800 km)</text>
<line x1="65.20" y1="1084.50" x2="67.60" y2="1084.50" stroke="#555" stroke-width="1.0"/>
<line x1="467.90" y1="1084.50" x2="470.30" y2="1084.50" stroke="#555" stroke-width="1.0"/>
<text x="62.00" y="1087.60" font-size="9.16" text-anchor="end" fill="#333" textLength="22.18" lengthAdjust="spacingAndGlyphs">U20C</text>
<text x="473.00" y="1088.90" font-size="12.50" text-anchor="start" fill="#000" textLength="168.82" lengthAdjust="spacingAndGlyphs">200hPa zonal wind (0-500 km)</text>
<line x1="65.20" y1="1119.10" x2="67.60" y2="1119.10" stroke="#555" stroke-width="1.0"/>
<line x1="467.90" y1="1119.10" x2="470.30" y2="1119.10" stroke="#555" stroke-width="1.0"/>
<text x="62.00" y="1122.20" font-size="9.16" text-anchor="end" fill="#333" textLength="21.77" lengthAdjust="spacingAndGlyphs">V20C</text>
<text x="473.00" y="1123.50" font-size="12.50" text-anchor="start" fill="#000" textLength="198.32" lengthAdjust="spacingAndGlyphs">200hPa meridional wind (0-500 km)</text>
<line x1="65.20" y1="1153.70" x2="67.60" y2="1153.70" stroke="#555" stroke-width="1.0"/>
<line x1="467.90" y1="1153.70" x2="470.30" y2="1153.70" stroke="#555" stroke-width="1.0"/>
<text x="62.00" y="1156.80" font-size="9.16" text-anchor="end" fill="#333" textLength="25.26" lengthAdjust="spacingAndGlyphs">RHMD</text>
<text x="473.00" y="1152.20" font-size="12.50" text-anchor="start" fill="#000" textLength="163.89" lengthAdjust="spacingAndGlyphs">700-500hPa relative humidity</text>
<text x="473.00" y="1165.40" font-size="12.50" text-anchor="start" fill="#000" textLength="75.61" lengthAdjust="spacingAndGlyphs">(200-800 km)</text>
<line x1="65.20" y1="1188.30" x2="67.60" y2="1188.30" stroke="#555" stroke-width="1.0"/>
<line x1="467.90" y1="1188.30" x2="470.30" y2="1188.30" stroke="#555" stroke-width="1.0"/>
<text x="62.00" y="1191.40" font-size="9.16" text-anchor="end" fill="#333" textLength="21.28" lengthAdjust="spacingAndGlyphs">Z850</text>
<text x="473.00" y="1192.70" font-size="12.50" text-anchor="start" fill="#000" textLength="162.06" lengthAdjust="spacingAndGlyphs">850hPa vorticity (0-1000 km)</text>
<line x1="65.20" y1="1222.90" x2="67.60" y2="1222.90" stroke="#555" stroke-width="1.0"/>
<line x1="467.90" y1="1222.90" x2="470.30" y2="1222.90" stroke="#555" stroke-width="1.0"/>
<text x="62.00" y="1226.00" font-size="9.16" text-anchor="end" fill="#333" textLength="21.28" lengthAdjust="spacingAndGlyphs">V850</text>
<text x="473.00" y="1221.40" font-size="12.50" text-anchor="start" fill="#000" textLength="198.43" lengthAdjust="spacingAndGlyphs">850hPa tangential wind azimuthally</text>
<text x="473.00" y="1234.60" font-size="12.50" text-anchor="start" fill="#000" textLength="112.36" lengthAdjust="spacingAndGlyphs">averaged at 500 km</text>
<line x1="65.20" y1="1257.50" x2="67.60" y2="1257.50" stroke="#555" stroke-width="1.0"/>
<line x1="467.90" y1="1257.50" x2="470.30" y2="1257.50" stroke="#555" stroke-width="1.0"/>
<text x="62.00" y="1260.60" font-size="9.16" text-anchor="end" fill="#333" textLength="21.28" lengthAdjust="spacingAndGlyphs">V500</text>
<text x="473.00" y="1256.00" font-size="12.50" text-anchor="start" fill="#000" textLength="198.43" lengthAdjust="spacingAndGlyphs">500hPa tangential wind azimuthally</text>
<text x="473.00" y="1269.20" font-size="12.50" text-anchor="start" fill="#000" textLength="112.36" lengthAdjust="spacingAndGlyphs">averaged at 500 km</text>
<line x1="65.20" y1="1292.10" x2="67.60" y2="1292.10" stroke="#555" stroke-width="1.0"/>
<line x1="467.90" y1="1292.10" x2="470.30" y2="1292.10" stroke="#555" stroke-width="1.0"/>
<text x="62.00" y="1295.20" font-size="9.16" text-anchor="end" fill="#333" textLength="21.28" lengthAdjust="spacingAndGlyphs">V300</text>
<text x="473.00" y="1290.60" font-size="12.50" text-anchor="start" fill="#000" textLength="198.43" lengthAdjust="spacingAndGlyphs">300hPa tangential wind azimuthally</text>
<text x="473.00" y="1303.80" font-size="12.50" text-anchor="start" fill="#000" textLength="112.36" lengthAdjust="spacingAndGlyphs">averaged at 500 km</text>
<line x1="65.20" y1="1326.70" x2="67.60" y2="1326.70" stroke="#555" stroke-width="1.0"/>
<line x1="467.90" y1="1326.70" x2="470.30" y2="1326.70" stroke="#555" stroke-width="1.0"/>
<text x="62.00" y="1329.80" font-size="9.16" text-anchor="end" fill="#333" textLength="20.05" lengthAdjust="spacingAndGlyphs">DIVC</text>
<text x="473.00" y="1325.20" font-size="12.50" text-anchor="start" fill="#000" textLength="173.58" lengthAdjust="spacingAndGlyphs">200hPa divergence centered at</text>
<text x="473.00" y="1338.40" font-size="12.50" text-anchor="start" fill="#000" textLength="127.47" lengthAdjust="spacingAndGlyphs">850hPa vortex location</text>
<line x1="65.20" y1="1361.30" x2="67.60" y2="1361.30" stroke="#555" stroke-width="1.0"/>
<line x1="467.90" y1="1361.30" x2="470.30" y2="1361.30" stroke="#555" stroke-width="1.0"/>
<text x="62.00" y="1364.40" font-size="9.16" text-anchor="end" fill="#333" textLength="23.41" lengthAdjust="spacingAndGlyphs">SHDC</text>
<text x="473.00" y="1359.80" font-size="12.50" text-anchor="start" fill="#000" textLength="127.69" lengthAdjust="spacingAndGlyphs">850-200hPa shear with</text>
<text x="473.00" y="1373.00" font-size="12.50" text-anchor="start" fill="#000" textLength="152.99" lengthAdjust="spacingAndGlyphs">vortex removed (0-500 km)</text>
<line x1="65.20" y1="1395.90" x2="67.60" y2="1395.90" stroke="#555" stroke-width="1.0"/>
<line x1="467.90" y1="1395.90" x2="470.30" y2="1395.90" stroke="#555" stroke-width="1.0"/>
<text x="62.00" y="1399.00" font-size="9.16" text-anchor="end" fill="#333" textLength="23.37" lengthAdjust="spacingAndGlyphs">SHRD</text>
<text x="473.00" y="1400.30" font-size="12.50" text-anchor="start" fill="#000" textLength="179.83" lengthAdjust="spacingAndGlyphs">850-200hPa shear (200-800 km)</text>
<line x1="65.20" y1="1430.50" x2="67.60" y2="1430.50" stroke="#555" stroke-width="1.0"/>
<line x1="467.90" y1="1430.50" x2="470.30" y2="1430.50" stroke="#555" stroke-width="1.0"/>
<text x="62.00" y="1433.60" font-size="9.16" text-anchor="end" fill="#333" textLength="22.26" lengthAdjust="spacingAndGlyphs">SHRS</text>
<text x="473.00" y="1434.90" font-size="12.50" text-anchor="start" fill="#000" textLength="179.83" lengthAdjust="spacingAndGlyphs">850-500hPa shear (200-800 km)</text>
<line x1="65.20" y1="1465.10" x2="67.60" y2="1465.10" stroke="#555" stroke-width="1.0"/>
<line x1="467.90" y1="1465.10" x2="470.30" y2="1465.10" stroke="#555" stroke-width="1.0"/>
<text x="62.00" y="1468.20" font-size="9.16" text-anchor="end" fill="#333" textLength="16.48" lengthAdjust="spacingAndGlyphs">SPD</text>
<text x="473.00" y="1469.50" font-size="12.50" text-anchor="start" fill="#000" textLength="115.96" lengthAdjust="spacingAndGlyphs">TC Translation Speed</text>
<line x1="65.20" y1="1499.70" x2="67.60" y2="1499.70" stroke="#555" stroke-width="1.0"/>
<line x1="467.90" y1="1499.70" x2="470.30" y2="1499.70" stroke="#555" stroke-width="1.0"/>
<text x="62.00" y="1502.80" font-size="9.16" text-anchor="end" fill="#333" textLength="20.54" lengthAdjust="spacingAndGlyphs">EPSS</text>
<line x1="65.20" y1="1534.30" x2="67.60" y2="1534.30" stroke="#555" stroke-width="1.0"/>
<line x1="467.90" y1="1534.30" x2="470.30" y2="1534.30" stroke="#555" stroke-width="1.0"/>
<text x="62.00" y="1537.40" font-size="9.16" text-anchor="end" fill="#333" textLength="21.73" lengthAdjust="spacingAndGlyphs">ENSS</text>
<text x="473.00" y="1498.00" font-size="12.50" fill="#000" textLength="228.0" lengthAdjust="spacingAndGlyphs">Avg. Δ <tspan font-style="italic">θ</tspan><tspan font-style="italic" font-size="8.75" dy="2.5">e</tspan><tspan dy="-2.5"> (only +) btwn parcel lifted from</tspan></text>
<text x="473.00" y="1513.10" font-size="12.50" fill="#000" textLength="222.3" lengthAdjust="spacingAndGlyphs">sfc. and saturated env. <tspan font-style="italic">θ</tspan><tspan font-style="italic" font-size="8.75" dy="2.5">e</tspan><tspan dy="-2.5"> (200-800 km)</tspan></text>
<text x="473.00" y="1532.60" font-size="12.50" fill="#000" textLength="228.0" lengthAdjust="spacingAndGlyphs">Avg. Δ <tspan font-style="italic">θ</tspan><tspan font-style="italic" font-size="8.75" dy="2.5">e</tspan><tspan dy="-2.5"> (only -) btwn parcel lifted from</tspan></text>
<text x="473.00" y="1547.70" font-size="12.50" fill="#000" textLength="222.3" lengthAdjust="spacingAndGlyphs">sfc. and saturated env. <tspan font-style="italic">θ</tspan><tspan font-style="italic" font-size="8.75" dy="2.5">e</tspan><tspan dy="-2.5"> (200-800 km)</tspan></text>
<line x1="90.45" y1="1551.40" x2="90.45" y2="1554.40" stroke="#555" stroke-width="1.0"/>
<text x="90.45" y="1562.60" font-size="8.72" text-anchor="middle" fill="#333" textLength="12.39" lengthAdjust="spacingAndGlyphs">−5</text>
<line x1="166.05" y1="1551.40" x2="166.05" y2="1554.40" stroke="#555" stroke-width="1.0"/>
<text x="166.05" y="1562.60" font-size="8.72" text-anchor="middle" fill="#333" textLength="5.33" lengthAdjust="spacingAndGlyphs">0</text>
<line x1="241.65" y1="1551.40" x2="241.65" y2="1554.40" stroke="#555" stroke-width="1.0"/>
<text x="241.65" y="1562.60" font-size="8.72" text-anchor="middle" fill="#333" textLength="5.33" lengthAdjust="spacingAndGlyphs">5</text>
<line x1="317.25" y1="1551.40" x2="317.25" y2="1554.40" stroke="#555" stroke-width="1.0"/>
<text x="317.25" y="1562.60" font-size="8.72" text-anchor="middle" fill="#333" textLength="10.71" lengthAdjust="spacingAndGlyphs">10</text>
<line x1="392.85" y1="1551.40" x2="392.85" y2="1554.40" stroke="#555" stroke-width="1.0"/>
<text x="392.85" y="1562.60" font-size="8.72" text-anchor="middle" fill="#333" textLength="10.71" lengthAdjust="spacingAndGlyphs">15</text>
<text x="267.60" y="1575.50" font-size="12.65" text-anchor="middle" fill="#000" textLength="92.40" lengthAdjust="spacingAndGlyphs">SHAP Value [kts]</text>
<text x="333.90" y="436.70" font-size="14.83" text-anchor="middle" fill="#000" textLength="328.80" lengthAdjust="spacingAndGlyphs">Shap values for 2023_06W at 20230801 0200UTC</text>
<rect x="29.10" y="1599.00" width="587.60" height="25.40" fill="url(#rb)"/>
<rect x="29.10" y="1599.00" width="587.60" height="25.40" fill="none" stroke="#333" stroke-width="0.8"/>
<line x1="29.10" y1="1624.40" x2="29.10" y2="1627.00" stroke="#333" stroke-width="0.8"/>
<line x1="616.70" y1="1624.40" x2="616.70" y2="1627.00" stroke="#333" stroke-width="0.8"/>
<text x="617.30" y="1595.40" font-size="11.48" text-anchor="end" fill="#222" textLength="66.40" lengthAdjust="spacingAndGlyphs">Feature Value</text>
<text x="29.00" y="1636.00" font-size="9.16" text-anchor="middle" fill="#222" textLength="16.70" lengthAdjust="spacingAndGlyphs">Low</text>
<text x="616.60" y="1636.70" font-size="9.59" text-anchor="middle" fill="#222" textLength="20.00" lengthAdjust="spacingAndGlyphs">High</text>
<text x="29.10" y="1651.50" font-size="9.88" text-anchor="start" fill="#222" textLength="505.30" lengthAdjust="spacingAndGlyphs">SHAP Value: Amount each feature [listed on Y-axis] contributes to the predicted intensity above or below 60 kts</text>
<line x1="506.00" y1="1653.60" x2="534.40" y2="1653.60" stroke="#222" stroke-width="0.8"/>
<text x="29.10" y="1666.50" font-size="9.88" text-anchor="start" fill="#222" textLength="481.90" lengthAdjust="spacingAndGlyphs">Feature Value: The value of the feature [listed on Y-axis] for the given TC compared to the training dataset</text>
<text x="918.35" y="432.50" font-size="13.08" text-anchor="middle" fill="#000" textLength="401.10" lengthAdjust="spacingAndGlyphs">Comparison of IR SHAP Values for 2023_06W at 20230801 0200UTC</text>
<svg x="718.00" y="454.10" width="200.30" height="200.00" viewBox="0 0 100 100" preserveAspectRatio="none" overflow="hidden"><g filter="url(#irmap)"><use href="#fldo0"/></g><g filter="url(#irmapS)"><use href="#fldc0"/></g></svg>
<rect x="718.00" y="454.10" width="200.30" height="200.00" fill="none" stroke="#333" stroke-width="1.0"/>
<svg x="955.30" y="454.10" width="200.30" height="200.00" viewBox="0 0 100 100" preserveAspectRatio="none" overflow="hidden"><rect width="100" height="100" fill="url(#shm)" filter="url(#shf)"/><ellipse cx="51" cy="48" rx="7" ry="8" fill="#ff9090" opacity="0.25" filter="url(#b2)"/><ellipse cx="48" cy="46.3" rx="1.2" ry="1.3" fill="#e00000" filter="url(#sb)"/><ellipse cx="46.9" cy="50.4" rx="2.2" ry="1.3" fill="#e00000" filter="url(#sb)"/></svg>
<rect x="955.30" y="454.10" width="200.30" height="200.00" fill="none" stroke="#555" stroke-width="1.0"/>
<text x="818.20" y="449.80" font-size="11.34" text-anchor="middle" fill="#111" textLength="78.38" lengthAdjust="spacingAndGlyphs">0h old IR Data</text>
<text x="1055.50" y="450.00" font-size="11.34" text-anchor="middle" fill="#111" textLength="123.75" lengthAdjust="spacingAndGlyphs">SHAP Value=11.93 kts</text>
<line x1="715.50" y1="463.40" x2="718.00" y2="463.40" stroke="#333" stroke-width="0.9"/>
<text x="711.60" y="467.00" font-size="10.47" text-anchor="end" fill="#222" textLength="12.62" lengthAdjust="spacingAndGlyphs">27</text>
<line x1="715.50" y1="494.80" x2="718.00" y2="494.80" stroke="#333" stroke-width="0.9"/>
<text x="711.60" y="498.40" font-size="10.47" text-anchor="end" fill="#222" textLength="12.62" lengthAdjust="spacingAndGlyphs">26</text>
<line x1="715.50" y1="526.20" x2="718.00" y2="526.20" stroke="#333" stroke-width="0.9"/>
<text x="711.60" y="529.80" font-size="10.47" text-anchor="end" fill="#222" textLength="12.62" lengthAdjust="spacingAndGlyphs">25</text>
<line x1="715.50" y1="557.60" x2="718.00" y2="557.60" stroke="#333" stroke-width="0.9"/>
<text x="711.60" y="561.20" font-size="10.47" text-anchor="end" fill="#222" textLength="12.62" lengthAdjust="spacingAndGlyphs">24</text>
<line x1="715.50" y1="589.00" x2="718.00" y2="589.00" stroke="#333" stroke-width="0.9"/>
<text x="711.60" y="592.60" font-size="10.47" text-anchor="end" fill="#222" textLength="12.62" lengthAdjust="spacingAndGlyphs">23</text>
<line x1="715.50" y1="620.40" x2="718.00" y2="620.40" stroke="#333" stroke-width="0.9"/>
<text x="711.60" y="624.00" font-size="10.47" text-anchor="end" fill="#222" textLength="12.62" lengthAdjust="spacingAndGlyphs">22</text>
<line x1="715.50" y1="651.80" x2="718.00" y2="651.80" stroke="#333" stroke-width="0.9"/>
<text x="711.60" y="655.40" font-size="10.47" text-anchor="end" fill="#222" textLength="12.62" lengthAdjust="spacingAndGlyphs">21</text>
<line x1="723.40" y1="654.10" x2="723.40" y2="656.60" stroke="#333" stroke-width="0.9"/>
<text x="723.40" y="666.10" font-size="10.47" text-anchor="middle" fill="#222" textLength="18.91" lengthAdjust="spacingAndGlyphs">127</text>
<line x1="751.95" y1="654.10" x2="751.95" y2="656.60" stroke="#333" stroke-width="0.9"/>
<text x="751.95" y="666.10" font-size="10.47" text-anchor="middle" fill="#222" textLength="18.91" lengthAdjust="spacingAndGlyphs">128</text>
<line x1="780.50" y1="654.10" x2="780.50" y2="656.60" stroke="#333" stroke-width="0.9"/>
<text x="780.50" y="666.10" font-size="10.47" text-anchor="middle" fill="#222" textLength="18.91" lengthAdjust="spacingAndGlyphs">129</text>
<line x1="809.05" y1="654.10" x2="809.05" y2="656.60" stroke="#333" stroke-width="0.9"/>
<text x="809.05" y="666.10" font-size="10.47" text-anchor="middle" fill="#222" textLength="18.91" lengthAdjust="spacingAndGlyphs">130</text>
<line x1="837.60" y1="654.10" x2="837.60" y2="656.60" stroke="#333" stroke-width="0.9"/>
<text x="837.60" y="666.10" font-size="10.47" text-anchor="middle" fill="#222" textLength="18.91" lengthAdjust="spacingAndGlyphs">131</text>
<line x1="866.15" y1="654.10" x2="866.15" y2="656.60" stroke="#333" stroke-width="0.9"/>
<text x="866.15" y="666.10" font-size="10.47" text-anchor="middle" fill="#222" textLength="18.91" lengthAdjust="spacingAndGlyphs">132</text>
<line x1="894.70" y1="654.10" x2="894.70" y2="656.60" stroke="#333" stroke-width="0.9"/>
<text x="894.70" y="666.10" font-size="10.47" text-anchor="middle" fill="#222" textLength="18.91" lengthAdjust="spacingAndGlyphs">133</text>
<line x1="953.10" y1="463.30" x2="955.30" y2="463.30" stroke="#555" stroke-width="0.9"/>
<line x1="960.90" y1="654.10" x2="960.90" y2="656.30" stroke="#555" stroke-width="0.9"/>
<line x1="953.10" y1="494.65" x2="955.30" y2="494.65" stroke="#555" stroke-width="0.9"/>
<line x1="989.60" y1="654.10" x2="989.60" y2="656.30" stroke="#555" stroke-width="0.9"/>
<line x1="953.10" y1="526.00" x2="955.30" y2="526.00" stroke="#555" stroke-width="0.9"/>
<line x1="1018.30" y1="654.10" x2="1018.30" y2="656.30" stroke="#555" stroke-width="0.9"/>
<line x1="953.10" y1="557.35" x2="955.30" y2="557.35" stroke="#555" stroke-width="0.9"/>
<line x1="1047.00" y1="654.10" x2="1047.00" y2="656.30" stroke="#555" stroke-width="0.9"/>
<line x1="953.10" y1="588.70" x2="955.30" y2="588.70" stroke="#555" stroke-width="0.9"/>
<line x1="1075.70" y1="654.10" x2="1075.70" y2="656.30" stroke="#555" stroke-width="0.9"/>
<line x1="953.10" y1="620.05" x2="955.30" y2="620.05" stroke="#555" stroke-width="0.9"/>
<line x1="1104.40" y1="654.10" x2="1104.40" y2="656.30" stroke="#555" stroke-width="0.9"/>
<line x1="953.10" y1="651.40" x2="955.30" y2="651.40" stroke="#555" stroke-width="0.9"/>
<line x1="1133.10" y1="654.10" x2="1133.10" y2="656.30" stroke="#555" stroke-width="0.9"/>
<svg x="718.00" y="691.20" width="200.30" height="200.00" viewBox="0 0 100 100" preserveAspectRatio="none" overflow="hidden"><g filter="url(#irmap)"><use href="#fldo1"/></g><g filter="url(#irmapS)"><use href="#fldc1"/></g></svg>
<rect x="718.00" y="691.20" width="200.30" height="200.00" fill="none" stroke="#333" stroke-width="1.0"/>
<svg x="955.30" y="691.20" width="200.30" height="200.00" viewBox="0 0 100 100" preserveAspectRatio="none" overflow="hidden"><rect width="100" height="100" fill="url(#shm)" filter="url(#shf)"/><ellipse cx="51" cy="48" rx="7" ry="8" fill="#ff9090" opacity="0.25" filter="url(#b2)"/><ellipse cx="49.6" cy="47.2" rx="1.4" ry="1.2" fill="#f01010" filter="url(#sb)"/><ellipse cx="50.3" cy="48.8" rx="1.0" ry="1.6" fill="#d00000" filter="url(#sb)"/><ellipse cx="50.8" cy="49.8" rx="0.9" ry="1.0" fill="#800000" filter="url(#sb)"/></svg>
<rect x="955.30" y="691.20" width="200.30" height="200.00" fill="none" stroke="#555" stroke-width="1.0"/>
<text x="818.20" y="686.90" font-size="11.34" text-anchor="middle" fill="#111" textLength="78.38" lengthAdjust="spacingAndGlyphs">3h old IR Data</text>
<text x="1055.50" y="687.10" font-size="11.34" text-anchor="middle" fill="#111" textLength="116.77" lengthAdjust="spacingAndGlyphs">SHAP Value=6.29 kts</text>
<line x1="715.50" y1="700.50" x2="718.00" y2="700.50" stroke="#333" stroke-width="0.9"/>
<text x="711.60" y="704.10" font-size="10.47" text-anchor="end" fill="#222" textLength="12.62" lengthAdjust="spacingAndGlyphs">27</text>
<line x1="715.50" y1="731.90" x2="718.00" y2="731.90" stroke="#333" stroke-width="0.9"/>
<text x="711.60" y="735.50" font-size="10.47" text-anchor="end" fill="#222" textLength="12.62" lengthAdjust="spacingAndGlyphs">26</text>
<line x1="715.50" y1="763.30" x2="718.00" y2="763.30" stroke="#333" stroke-width="0.9"/>
<text x="711.60" y="766.90" font-size="10.47" text-anchor="end" fill="#222" textLength="12.62" lengthAdjust="spacingAndGlyphs">25</text>
<line x1="715.50" y1="794.70" x2="718.00" y2="794.70" stroke="#333" stroke-width="0.9"/>
<text x="711.60" y="798.30" font-size="10.47" text-anchor="end" fill="#222" textLength="12.62" lengthAdjust="spacingAndGlyphs">24</text>
<line x1="715.50" y1="826.10" x2="718.00" y2="826.10" stroke="#333" stroke-width="0.9"/>
<text x="711.60" y="829.70" font-size="10.47" text-anchor="end" fill="#222" textLength="12.62" lengthAdjust="spacingAndGlyphs">23</text>
<line x1="715.50" y1="857.50" x2="718.00" y2="857.50" stroke="#333" stroke-width="0.9"/>
<text x="711.60" y="861.10" font-size="10.47" text-anchor="end" fill="#222" textLength="12.62" lengthAdjust="spacingAndGlyphs">22</text>
<line x1="715.50" y1="888.90" x2="718.00" y2="888.90" stroke="#333" stroke-width="0.9"/>
<text x="711.60" y="892.50" font-size="10.47" text-anchor="end" fill="#222" textLength="12.62" lengthAdjust="spacingAndGlyphs">21</text>
<line x1="723.40" y1="891.20" x2="723.40" y2="893.70" stroke="#333" stroke-width="0.9"/>
<text x="723.40" y="903.20" font-size="10.47" text-anchor="middle" fill="#222" textLength="18.91" lengthAdjust="spacingAndGlyphs">127</text>
<line x1="751.95" y1="891.20" x2="751.95" y2="893.70" stroke="#333" stroke-width="0.9"/>
<text x="751.95" y="903.20" font-size="10.47" text-anchor="middle" fill="#222" textLength="18.91" lengthAdjust="spacingAndGlyphs">128</text>
<line x1="780.50" y1="891.20" x2="780.50" y2="893.70" stroke="#333" stroke-width="0.9"/>
<text x="780.50" y="903.20" font-size="10.47" text-anchor="middle" fill="#222" textLength="18.91" lengthAdjust="spacingAndGlyphs">129</text>
<line x1="809.05" y1="891.20" x2="809.05" y2="893.70" stroke="#333" stroke-width="0.9"/>
<text x="809.05" y="903.20" font-size="10.47" text-anchor="middle" fill="#222" textLength="18.91" lengthAdjust="spacingAndGlyphs">130</text>
<line x1="837.60" y1="891.20" x2="837.60" y2="893.70" stroke="#333" stroke-width="0.9"/>
<text x="837.60" y="903.20" font-size="10.47" text-anchor="middle" fill="#222" textLength="18.91" lengthAdjust="spacingAndGlyphs">131</text>
<line x1="866.15" y1="891.20" x2="866.15" y2="893.70" stroke="#333" stroke-width="0.9"/>
<text x="866.15" y="903.20" font-size="10.47" text-anchor="middle" fill="#222" textLength="18.91" lengthAdjust="spacingAndGlyphs">132</text>
<line x1="894.70" y1="891.20" x2="894.70" y2="893.70" stroke="#333" stroke-width="0.9"/>
<text x="894.70" y="903.20" font-size="10.47" text-anchor="middle" fill="#222" textLength="18.91" lengthAdjust="spacingAndGlyphs">133</text>
<line x1="953.10" y1="700.40" x2="955.30" y2="700.40" stroke="#555" stroke-width="0.9"/>
<line x1="960.90" y1="891.20" x2="960.90" y2="893.40" stroke="#555" stroke-width="0.9"/>
<line x1="953.10" y1="731.75" x2="955.30" y2="731.75" stroke="#555" stroke-width="0.9"/>
<line x1="989.60" y1="891.20" x2="989.60" y2="893.40" stroke="#555" stroke-width="0.9"/>
<line x1="953.10" y1="763.10" x2="955.30" y2="763.10" stroke="#555" stroke-width="0.9"/>
<line x1="1018.30" y1="891.20" x2="1018.30" y2="893.40" stroke="#555" stroke-width="0.9"/>
<line x1="953.10" y1="794.45" x2="955.30" y2="794.45" stroke="#555" stroke-width="0.9"/>
<line x1="1047.00" y1="891.20" x2="1047.00" y2="893.40" stroke="#555" stroke-width="0.9"/>
<line x1="953.10" y1="825.80" x2="955.30" y2="825.80" stroke="#555" stroke-width="0.9"/>
<line x1="1075.70" y1="891.20" x2="1075.70" y2="893.40" stroke="#555" stroke-width="0.9"/>
<line x1="953.10" y1="857.15" x2="955.30" y2="857.15" stroke="#555" stroke-width="0.9"/>
<line x1="1104.40" y1="891.20" x2="1104.40" y2="893.40" stroke="#555" stroke-width="0.9"/>
<line x1="953.10" y1="888.50" x2="955.30" y2="888.50" stroke="#555" stroke-width="0.9"/>
<line x1="1133.10" y1="891.20" x2="1133.10" y2="893.40" stroke="#555" stroke-width="0.9"/>
<svg x="718.00" y="929.00" width="200.30" height="200.00" viewBox="0 0 100 100" preserveAspectRatio="none" overflow="hidden"><g filter="url(#irmap)"><use href="#fldo2"/></g><g filter="url(#irmapS)"><use href="#fldc2"/></g></svg>
<rect x="718.00" y="929.00" width="200.30" height="200.00" fill="none" stroke="#333" stroke-width="1.0"/>
<svg x="955.30" y="929.00" width="200.30" height="200.00" viewBox="0 0 100 100" preserveAspectRatio="none" overflow="hidden"><rect width="100" height="100" fill="url(#shm)" filter="url(#shf)"/><ellipse cx="51" cy="48" rx="7" ry="8" fill="#ff9090" opacity="0.25" filter="url(#b2)"/><ellipse cx="49.0" cy="49.5" rx="1.6" ry="2.2" fill="#f00000" filter="url(#sb)"/><ellipse cx="51.0" cy="47.0" rx="1.6" ry="1.4" fill="#f00000" filter="url(#sb)"/><ellipse cx="50.0" cy="48.0" rx="1.0" ry="1.0" fill="#e00000" filter="url(#sb)"/></svg>
<rect x="955.30" y="929.00" width="200.30" height="200.00" fill="none" stroke="#555" stroke-width="1.0"/>
<text x="818.20" y="924.70" font-size="11.34" text-anchor="middle" fill="#111" textLength="78.38" lengthAdjust="spacingAndGlyphs">6h old IR Data</text>
<text x="1055.50" y="924.90" font-size="11.34" text-anchor="middle" fill="#111" textLength="123.75" lengthAdjust="spacingAndGlyphs">SHAP Value=10.60 kts</text>
<line x1="715.50" y1="938.30" x2="718.00" y2="938.30" stroke="#333" stroke-width="0.9"/>
<text x="711.60" y="941.90" font-size="10.47" text-anchor="end" fill="#222" textLength="12.62" lengthAdjust="spacingAndGlyphs">27</text>
<line x1="715.50" y1="969.70" x2="718.00" y2="969.70" stroke="#333" stroke-width="0.9"/>
<text x="711.60" y="973.30" font-size="10.47" text-anchor="end" fill="#222" textLength="12.62" lengthAdjust="spacingAndGlyphs">26</text>
<line x1="715.50" y1="1001.10" x2="718.00" y2="1001.10" stroke="#333" stroke-width="0.9"/>
<text x="711.60" y="1004.70" font-size="10.47" text-anchor="end" fill="#222" textLength="12.62" lengthAdjust="spacingAndGlyphs">25</text>
<line x1="715.50" y1="1032.50" x2="718.00" y2="1032.50" stroke="#333" stroke-width="0.9"/>
<text x="711.60" y="1036.10" font-size="10.47" text-anchor="end" fill="#222" textLength="12.62" lengthAdjust="spacingAndGlyphs">24</text>
<line x1="715.50" y1="1063.90" x2="718.00" y2="1063.90" stroke="#333" stroke-width="0.9"/>
<text x="711.60" y="1067.50" font-size="10.47" text-anchor="end" fill="#222" textLength="12.62" lengthAdjust="spacingAndGlyphs">23</text>
<line x1="715.50" y1="1095.30" x2="718.00" y2="1095.30" stroke="#333" stroke-width="0.9"/>
<text x="711.60" y="1098.90" font-size="10.47" text-anchor="end" fill="#222" textLength="12.62" lengthAdjust="spacingAndGlyphs">22</text>
<line x1="715.50" y1="1126.70" x2="718.00" y2="1126.70" stroke="#333" stroke-width="0.9"/>
<text x="711.60" y="1130.30" font-size="10.47" text-anchor="end" fill="#222" textLength="12.62" lengthAdjust="spacingAndGlyphs">21</text>
<line x1="723.40" y1="1129.00" x2="723.40" y2="1131.50" stroke="#333" stroke-width="0.9"/>
<text x="723.40" y="1141.00" font-size="10.47" text-anchor="middle" fill="#222" textLength="18.91" lengthAdjust="spacingAndGlyphs">127</text>
<line x1="751.95" y1="1129.00" x2="751.95" y2="1131.50" stroke="#333" stroke-width="0.9"/>
<text x="751.95" y="1141.00" font-size="10.47" text-anchor="middle" fill="#222" textLength="18.91" lengthAdjust="spacingAndGlyphs">128</text>
<line x1="780.50" y1="1129.00" x2="780.50" y2="1131.50" stroke="#333" stroke-width="0.9"/>
<text x="780.50" y="1141.00" font-size="10.47" text-anchor="middle" fill="#222" textLength="18.91" lengthAdjust="spacingAndGlyphs">129</text>
<line x1="809.05" y1="1129.00" x2="809.05" y2="1131.50" stroke="#333" stroke-width="0.9"/>
<text x="809.05" y="1141.00" font-size="10.47" text-anchor="middle" fill="#222" textLength="18.91" lengthAdjust="spacingAndGlyphs">130</text>
<line x1="837.60" y1="1129.00" x2="837.60" y2="1131.50" stroke="#333" stroke-width="0.9"/>
<text x="837.60" y="1141.00" font-size="10.47" text-anchor="middle" fill="#222" textLength="18.91" lengthAdjust="spacingAndGlyphs">131</text>
<line x1="866.15" y1="1129.00" x2="866.15" y2="1131.50" stroke="#333" stroke-width="0.9"/>
<text x="866.15" y="1141.00" font-size="10.47" text-anchor="middle" fill="#222" textLength="18.91" lengthAdjust="spacingAndGlyphs">132</text>
<line x1="894.70" y1="1129.00" x2="894.70" y2="1131.50" stroke="#333" stroke-width="0.9"/>
<text x="894.70" y="1141.00" font-size="10.47" text-anchor="middle" fill="#222" textLength="18.91" lengthAdjust="spacingAndGlyphs">133</text>
<line x1="953.10" y1="938.20" x2="955.30" y2="938.20" stroke="#555" stroke-width="0.9"/>
<line x1="960.90" y1="1129.00" x2="960.90" y2="1131.20" stroke="#555" stroke-width="0.9"/>
<line x1="953.10" y1="969.55" x2="955.30" y2="969.55" stroke="#555" stroke-width="0.9"/>
<line x1="989.60" y1="1129.00" x2="989.60" y2="1131.20" stroke="#555" stroke-width="0.9"/>
<line x1="953.10" y1="1000.90" x2="955.30" y2="1000.90" stroke="#555" stroke-width="0.9"/>
<line x1="1018.30" y1="1129.00" x2="1018.30" y2="1131.20" stroke="#555" stroke-width="0.9"/>
<line x1="953.10" y1="1032.25" x2="955.30" y2="1032.25" stroke="#555" stroke-width="0.9"/>
<line x1="1047.00" y1="1129.00" x2="1047.00" y2="1131.20" stroke="#555" stroke-width="0.9"/>
<line x1="953.10" y1="1063.60" x2="955.30" y2="1063.60" stroke="#555" stroke-width="0.9"/>
<line x1="1075.70" y1="1129.00" x2="1075.70" y2="1131.20" stroke="#555" stroke-width="0.9"/>
<line x1="953.10" y1="1094.95" x2="955.30" y2="1094.95" stroke="#555" stroke-width="0.9"/>
<line x1="1104.40" y1="1129.00" x2="1104.40" y2="1131.20" stroke="#555" stroke-width="0.9"/>
<line x1="953.10" y1="1126.30" x2="955.30" y2="1126.30" stroke="#555" stroke-width="0.9"/>
<line x1="1133.10" y1="1129.00" x2="1133.10" y2="1131.20" stroke="#555" stroke-width="0.9"/>
<svg x="718.00" y="1166.50" width="200.30" height="200.00" viewBox="0 0 100 100" preserveAspectRatio="none" overflow="hidden"><g filter="url(#irmap)"><use href="#fldo3"/></g><g filter="url(#irmapS)"><use href="#fldc3"/></g></svg>
<rect x="718.00" y="1166.50" width="200.30" height="200.00" fill="none" stroke="#333" stroke-width="1.0"/>
<svg x="955.30" y="1166.50" width="200.30" height="200.00" viewBox="0 0 100 100" preserveAspectRatio="none" overflow="hidden"><rect width="100" height="100" fill="url(#shm)" filter="url(#shf)"/><ellipse cx="51" cy="48" rx="7" ry="8" fill="#ff9090" opacity="0.25" filter="url(#b2)"/><ellipse cx="47.3" cy="50.5" rx="1.5" ry="1.6" fill="#f00000" filter="url(#sb)"/><ellipse cx="51.0" cy="49.6" rx="1.5" ry="1.5" fill="#e00000" filter="url(#sb)"/><ellipse cx="49.0" cy="47.6" rx="0.9" ry="0.8" fill="#ff4040" filter="url(#sb)"/></svg>
<rect x="955.30" y="1166.50" width="200.30" height="200.00" fill="none" stroke="#555" stroke-width="1.0"/>
<text x="818.20" y="1162.20" font-size="11.34" text-anchor="middle" fill="#111" textLength="78.38" lengthAdjust="spacingAndGlyphs">9h old IR Data</text>
<text x="1055.50" y="1162.40" font-size="11.34" text-anchor="middle" fill="#111" textLength="116.77" lengthAdjust="spacingAndGlyphs">SHAP Value=7.82 kts</text>
<line x1="715.50" y1="1172.50" x2="718.00" y2="1172.50" stroke="#333" stroke-width="0.9"/>
<text x="711.60" y="1176.10" font-size="10.47" text-anchor="end" fill="#222" textLength="12.62" lengthAdjust="spacingAndGlyphs">27</text>
<line x1="715.50" y1="1203.90" x2="718.00" y2="1203.90" stroke="#333" stroke-width="0.9"/>
<text x="711.60" y="1207.50" font-size="10.47" text-anchor="end" fill="#222" textLength="12.62" lengthAdjust="spacingAndGlyphs">26</text>
<line x1="715.50" y1="1235.30" x2="718.00" y2="1235.30" stroke="#333" stroke-width="0.9"/>
<text x="711.60" y="1238.90" font-size="10.47" text-anchor="end" fill="#222" textLength="12.62" lengthAdjust="spacingAndGlyphs">25</text>
<line x1="715.50" y1="1266.70" x2="718.00" y2="1266.70" stroke="#333" stroke-width="0.9"/>
<text x="711.60" y="1270.30" font-size="10.47" text-anchor="end" fill="#222" textLength="12.62" lengthAdjust="spacingAndGlyphs">24</text>
<line x1="715.50" y1="1298.10" x2="718.00" y2="1298.10" stroke="#333" stroke-width="0.9"/>
<text x="711.60" y="1301.70" font-size="10.47" text-anchor="end" fill="#222" textLength="12.62" lengthAdjust="spacingAndGlyphs">23</text>
<line x1="715.50" y1="1329.50" x2="718.00" y2="1329.50" stroke="#333" stroke-width="0.9"/>
<text x="711.60" y="1333.10" font-size="10.47" text-anchor="end" fill="#222" textLength="12.62" lengthAdjust="spacingAndGlyphs">22</text>
<line x1="715.50" y1="1360.90" x2="718.00" y2="1360.90" stroke="#333" stroke-width="0.9"/>
<text x="711.60" y="1364.50" font-size="10.47" text-anchor="end" fill="#222" textLength="12.62" lengthAdjust="spacingAndGlyphs">21</text>
<line x1="720.10" y1="1366.50" x2="720.10" y2="1369.00" stroke="#333" stroke-width="0.9"/>
<text x="720.10" y="1378.50" font-size="10.47" text-anchor="middle" fill="#222" textLength="18.91" lengthAdjust="spacingAndGlyphs">127</text>
<line x1="748.80" y1="1366.50" x2="748.80" y2="1369.00" stroke="#333" stroke-width="0.9"/>
<text x="748.80" y="1378.50" font-size="10.47" text-anchor="middle" fill="#222" textLength="18.91" lengthAdjust="spacingAndGlyphs">128</text>
<line x1="777.50" y1="1366.50" x2="777.50" y2="1369.00" stroke="#333" stroke-width="0.9"/>
<text x="777.50" y="1378.50" font-size="10.47" text-anchor="middle" fill="#222" textLength="18.91" lengthAdjust="spacingAndGlyphs">129</text>
<line x1="806.20" y1="1366.50" x2="806.20" y2="1369.00" stroke="#333" stroke-width="0.9"/>
<text x="806.20" y="1378.50" font-size="10.47" text-anchor="middle" fill="#222" textLength="18.91" lengthAdjust="spacingAndGlyphs">130</text>
<line x1="834.90" y1="1366.50" x2="834.90" y2="1369.00" stroke="#333" stroke-width="0.9"/>
<text x="834.90" y="1378.50" font-size="10.47" text-anchor="middle" fill="#222" textLength="18.91" lengthAdjust="spacingAndGlyphs">131</text>
<line x1="863.60" y1="1366.50" x2="863.60" y2="1369.00" stroke="#333" stroke-width="0.9"/>
<text x="863.60" y="1378.50" font-size="10.47" text-anchor="middle" fill="#222" textLength="18.91" lengthAdjust="spacingAndGlyphs">132</text>
<line x1="892.30" y1="1366.50" x2="892.30" y2="1369.00" stroke="#333" stroke-width="0.9"/>
<text x="892.30" y="1378.50" font-size="10.47" text-anchor="middle" fill="#222" textLength="18.91" lengthAdjust="spacingAndGlyphs">133</text>
<line x1="953.10" y1="1175.70" x2="955.30" y2="1175.70" stroke="#555" stroke-width="0.9"/>
<line x1="960.90" y1="1366.50" x2="960.90" y2="1368.70" stroke="#555" stroke-width="0.9"/>
<line x1="953.10" y1="1207.05" x2="955.30" y2="1207.05" stroke="#555" stroke-width="0.9"/>
<line x1="989.60" y1="1366.50" x2="989.60" y2="1368.70" stroke="#555" stroke-width="0.9"/>
<line x1="953.10" y1="1238.40" x2="955.30" y2="1238.40" stroke="#555" stroke-width="0.9"/>
<line x1="1018.30" y1="1366.50" x2="1018.30" y2="1368.70" stroke="#555" stroke-width="0.9"/>
<line x1="953.10" y1="1269.75" x2="955.30" y2="1269.75" stroke="#555" stroke-width="0.9"/>
<line x1="1047.00" y1="1366.50" x2="1047.00" y2="1368.70" stroke="#555" stroke-width="0.9"/>
<line x1="953.10" y1="1301.10" x2="955.30" y2="1301.10" stroke="#555" stroke-width="0.9"/>
<line x1="1075.70" y1="1366.50" x2="1075.70" y2="1368.70" stroke="#555" stroke-width="0.9"/>
<line x1="953.10" y1="1332.45" x2="955.30" y2="1332.45" stroke="#555" stroke-width="0.9"/>
<line x1="1104.40" y1="1366.50" x2="1104.40" y2="1368.70" stroke="#555" stroke-width="0.9"/>
<line x1="953.10" y1="1363.80" x2="955.30" y2="1363.80" stroke="#555" stroke-width="0.9"/>
<line x1="1133.10" y1="1366.50" x2="1133.10" y2="1368.70" stroke="#555" stroke-width="0.9"/>
<svg x="718.00" y="1403.70" width="200.30" height="200.00" viewBox="0 0 100 100" preserveAspectRatio="none" overflow="hidden"><g filter="url(#irmap)"><use href="#fldo4"/></g><g filter="url(#irmapS)"><use href="#fldc4"/></g></svg>
<rect x="718.00" y="1403.70" width="200.30" height="200.00" fill="none" stroke="#333" stroke-width="1.0"/>
<svg x="955.30" y="1403.70" width="200.30" height="200.00" viewBox="0 0 100 100" preserveAspectRatio="none" overflow="hidden"><rect width="100" height="100" fill="url(#shm)" filter="url(#shf)"/><ellipse cx="51" cy="48" rx="7" ry="8" fill="#ff9090" opacity="0.25" filter="url(#b2)"/><ellipse cx="47.5" cy="49.7" rx="2.0" ry="2.0" fill="#c80000" filter="url(#sb)"/><ellipse cx="51.4" cy="48.8" rx="1.6" ry="1.5" fill="#c80000" filter="url(#sb)"/><ellipse cx="49.5" cy="50.5" rx="1.0" ry="1.0" fill="#c80000" filter="url(#sb)"/></svg>
<rect x="955.30" y="1403.70" width="200.30" height="200.00" fill="none" stroke="#555" stroke-width="1.0"/>
<text x="818.20" y="1399.40" font-size="11.34" text-anchor="middle" fill="#111" textLength="85.36" lengthAdjust="spacingAndGlyphs">12h old IR Data</text>
<text x="1055.50" y="1399.60" font-size="11.34" text-anchor="middle" fill="#111" textLength="123.75" lengthAdjust="spacingAndGlyphs">SHAP Value=21.41 kts</text>
<line x1="715.50" y1="1432.00" x2="718.00" y2="1432.00" stroke="#333" stroke-width="0.9"/>
<text x="711.60" y="1435.60" font-size="10.47" text-anchor="end" fill="#222" textLength="12.62" lengthAdjust="spacingAndGlyphs">26</text>
<line x1="715.50" y1="1463.26" x2="718.00" y2="1463.26" stroke="#333" stroke-width="0.9"/>
<text x="711.60" y="1466.86" font-size="10.47" text-anchor="end" fill="#222" textLength="12.62" lengthAdjust="spacingAndGlyphs">25</text>
<line x1="715.50" y1="1494.52" x2="718.00" y2="1494.52" stroke="#333" stroke-width="0.9"/>
<text x="711.60" y="1498.12" font-size="10.47" text-anchor="end" fill="#222" textLength="12.62" lengthAdjust="spacingAndGlyphs">24</text>
<line x1="715.50" y1="1525.78" x2="718.00" y2="1525.78" stroke="#333" stroke-width="0.9"/>
<text x="711.60" y="1529.38" font-size="10.47" text-anchor="end" fill="#222" textLength="12.62" lengthAdjust="spacingAndGlyphs">23</text>
<line x1="715.50" y1="1557.04" x2="718.00" y2="1557.04" stroke="#333" stroke-width="0.9"/>
<text x="711.60" y="1560.64" font-size="10.47" text-anchor="end" fill="#222" textLength="12.62" lengthAdjust="spacingAndGlyphs">22</text>
<line x1="715.50" y1="1588.30" x2="718.00" y2="1588.30" stroke="#333" stroke-width="0.9"/>
<text x="711.60" y="1591.90" font-size="10.47" text-anchor="end" fill="#222" textLength="12.62" lengthAdjust="spacingAndGlyphs">21</text>
<line x1="737.90" y1="1603.70" x2="737.90" y2="1606.20" stroke="#333" stroke-width="0.9"/>
<text x="737.90" y="1615.70" font-size="10.47" text-anchor="middle" fill="#222" textLength="18.91" lengthAdjust="spacingAndGlyphs">128</text>
<line x1="766.55" y1="1603.70" x2="766.55" y2="1606.20" stroke="#333" stroke-width="0.9"/>
<text x="766.55" y="1615.70" font-size="10.47" text-anchor="middle" fill="#222" textLength="18.91" lengthAdjust="spacingAndGlyphs">129</text>
<line x1="795.20" y1="1603.70" x2="795.20" y2="1606.20" stroke="#333" stroke-width="0.9"/>
<text x="795.20" y="1615.70" font-size="10.47" text-anchor="middle" fill="#222" textLength="18.91" lengthAdjust="spacingAndGlyphs">130</text>
<line x1="823.85" y1="1603.70" x2="823.85" y2="1606.20" stroke="#333" stroke-width="0.9"/>
<text x="823.85" y="1615.70" font-size="10.47" text-anchor="middle" fill="#222" textLength="18.91" lengthAdjust="spacingAndGlyphs">131</text>
<line x1="852.50" y1="1603.70" x2="852.50" y2="1606.20" stroke="#333" stroke-width="0.9"/>
<text x="852.50" y="1615.70" font-size="10.47" text-anchor="middle" fill="#222" textLength="18.91" lengthAdjust="spacingAndGlyphs">132</text>
<line x1="881.15" y1="1603.70" x2="881.15" y2="1606.20" stroke="#333" stroke-width="0.9"/>
<text x="881.15" y="1615.70" font-size="10.47" text-anchor="middle" fill="#222" textLength="18.91" lengthAdjust="spacingAndGlyphs">133</text>
<line x1="909.80" y1="1603.70" x2="909.80" y2="1606.20" stroke="#333" stroke-width="0.9"/>
<text x="909.80" y="1615.70" font-size="10.47" text-anchor="middle" fill="#222" textLength="18.91" lengthAdjust="spacingAndGlyphs">134</text>
<line x1="953.10" y1="1412.90" x2="955.30" y2="1412.90" stroke="#555" stroke-width="0.9"/>
<line x1="960.90" y1="1603.70" x2="960.90" y2="1605.90" stroke="#555" stroke-width="0.9"/>
<line x1="953.10" y1="1444.25" x2="955.30" y2="1444.25" stroke="#555" stroke-width="0.9"/>
<line x1="989.60" y1="1603.70" x2="989.60" y2="1605.90" stroke="#555" stroke-width="0.9"/>
<line x1="953.10" y1="1475.60" x2="955.30" y2="1475.60" stroke="#555" stroke-width="0.9"/>
<line x1="1018.30" y1="1603.70" x2="1018.30" y2="1605.90" stroke="#555" stroke-width="0.9"/>
<line x1="953.10" y1="1506.95" x2="955.30" y2="1506.95" stroke="#555" stroke-width="0.9"/>
<line x1="1047.00" y1="1603.70" x2="1047.00" y2="1605.90" stroke="#555" stroke-width="0.9"/>
<line x1="953.10" y1="1538.30" x2="955.30" y2="1538.30" stroke="#555" stroke-width="0.9"/>
<line x1="1075.70" y1="1603.70" x2="1075.70" y2="1605.90" stroke="#555" stroke-width="0.9"/>
<line x1="953.10" y1="1569.65" x2="955.30" y2="1569.65" stroke="#555" stroke-width="0.9"/>
<line x1="1104.40" y1="1603.70" x2="1104.40" y2="1605.90" stroke="#555" stroke-width="0.9"/>
<line x1="953.10" y1="1601.00" x2="955.30" y2="1601.00" stroke="#555" stroke-width="0.9"/>
<line x1="1133.10" y1="1603.70" x2="1133.10" y2="1605.90" stroke="#555" stroke-width="0.9"/>
<rect x="718.20" y="1641.70" width="199.90" height="12.20" fill="url(#bt)"/>
<rect x="718.20" y="1641.70" width="199.90" height="12.20" fill="none" stroke="#333" stroke-width="0.8"/>
<text x="817.80" y="1638.10" font-size="10.61" text-anchor="middle" fill="#222" textLength="132.90" lengthAdjust="spacingAndGlyphs">Brightness Temperature [K]</text>
<line x1="718.20" y1="1653.90" x2="718.20" y2="1656.00" stroke="#333" stroke-width="0.8"/>
<text x="718.20" y="1664.60" font-size="8.58" text-anchor="middle" fill="#333" textLength="15.28" lengthAdjust="spacingAndGlyphs">180</text>
<line x1="748.95" y1="1653.90" x2="748.95" y2="1656.00" stroke="#333" stroke-width="0.8"/>
<text x="748.95" y="1664.60" font-size="8.58" text-anchor="middle" fill="#333" textLength="15.28" lengthAdjust="spacingAndGlyphs">200</text>
<line x1="779.71" y1="1653.90" x2="779.71" y2="1656.00" stroke="#333" stroke-width="0.8"/>
<text x="779.71" y="1664.60" font-size="8.58" text-anchor="middle" fill="#333" textLength="15.28" lengthAdjust="spacingAndGlyphs">220</text>
<line x1="810.46" y1="1653.90" x2="810.46" y2="1656.00" stroke="#333" stroke-width="0.8"/>
<text x="810.46" y="1664.60" font-size="8.58" text-anchor="middle" fill="#333" textLength="15.28" lengthAdjust="spacingAndGlyphs">240</text>
<line x1="841.22" y1="1653.90" x2="841.22" y2="1656.00" stroke="#333" stroke-width="0.8"/>
<text x="841.22" y="1664.60" font-size="8.58" text-anchor="middle" fill="#333" textLength="15.28" lengthAdjust="spacingAndGlyphs">260</text>
<line x1="871.97" y1="1653.90" x2="871.97" y2="1656.00" stroke="#333" stroke-width="0.8"/>
<text x="871.97" y="1664.60" font-size="8.58" text-anchor="middle" fill="#333" textLength="15.28" lengthAdjust="spacingAndGlyphs">280</text>
<line x1="902.72" y1="1653.90" x2="902.72" y2="1656.00" stroke="#333" stroke-width="0.8"/>
<text x="902.72" y="1664.60" font-size="8.58" text-anchor="middle" fill="#333" textLength="15.28" lengthAdjust="spacingAndGlyphs">300</text>
<rect x="955.60" y="1641.90" width="200.30" height="12.30" fill="url(#sw)"/>
<rect x="955.60" y="1641.90" width="200.30" height="12.30" fill="none" stroke="#333" stroke-width="0.8"/>
<text x="1055.40" y="1638.00" font-size="10.17" text-anchor="middle" fill="#222" textLength="60.10" lengthAdjust="spacingAndGlyphs">SHAP Values</text>
<line x1="1003.00" y1="1654.20" x2="1003.00" y2="1656.40" stroke="#333" stroke-width="0.8"/>
<text x="1003.00" y="1666.80" font-size="10.47" text-anchor="middle" fill="#222" textLength="23.33" lengthAdjust="spacingAndGlyphs">−0.2</text>
<line x1="1055.60" y1="1654.20" x2="1055.60" y2="1656.40" stroke="#333" stroke-width="0.8"/>
<text x="1055.60" y="1666.80" font-size="10.47" text-anchor="middle" fill="#222" textLength="15.26" lengthAdjust="spacingAndGlyphs">0.0</text>
<line x1="1108.30" y1="1654.20" x2="1108.30" y2="1656.40" stroke="#333" stroke-width="0.8"/>
<text x="1108.30" y="1666.80" font-size="10.47" text-anchor="middle" fill="#222" textLength="15.26" lengthAdjust="spacingAndGlyphs">0.2</text></svg></body></html>
